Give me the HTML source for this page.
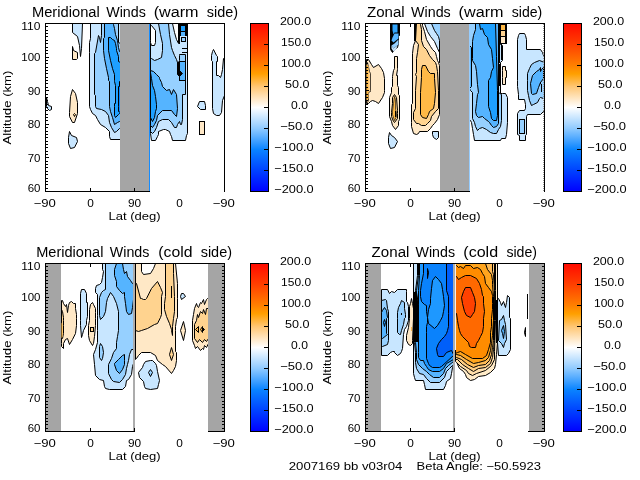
<!DOCTYPE html>
<html><head><meta charset="utf-8"><title>Winds</title>
<style>html,body{margin:0;padding:0;background:#fff;overflow:hidden}svg{display:block}
text{font-family:"Liberation Sans",sans-serif;fill:#000}</style></head>
<body><svg width="640" height="480" viewBox="0 0 640 480">
<rect width="640" height="480" fill="#fff"/>
<g shape-rendering="crispEdges" stroke-linejoin="miter">
<path shape-rendering="geometricPrecision" d="M90.5 23.5 L90.5 38.5 L89.5 42.5 L89.5 52.5 L89.5 106.5 L90.5 109.5 L92.5 113.5 L95.5 115.5 L97.5 119.5 L100.5 124.5 L105.5 127.5 L109.5 131.5 L109.5 136.5 L110.5 139.5 L120.5 139.5 L120.5 23.5 Z" fill="#c8e6ff" stroke="#000" stroke-width="1"/>
<path shape-rendering="geometricPrecision" d="M101.5 23.5 L101.5 35.5 L100.5 42.5 L99.5 37.5 L98.5 35.5 L95.5 52.5 L94.5 53.5 L94.5 94.5 L95.5 95.5 L95.5 106.5 L96.5 108.5 L101.5 109.5 L105.5 111.5 L108.5 115.5 L109.5 122.5 L111.5 127.5 L114.5 132.5 L116.5 131.5 L119.5 128.5 L120.5 128.5 L120.5 43.5 L118.5 42.5 L118.5 23.5 Z" fill="#96d0ff" stroke="#000" stroke-width="1"/>
<path shape-rendering="geometricPrecision" d="M104.5 23.5 L104.5 37.5 L103.5 38.5 L103.5 50.5 L104.5 58.5 L106.5 68.5 L108.5 77.5 L108.5 80.5 L109.5 81.5 L109.5 106.5 L110.5 111.5 L112.5 117.5 L114.5 124.5 L117.5 122.5 L119.5 121.5 L120.5 121.5 L120.5 52.5 L119.5 51.5 L118.5 47.5 L117.5 40.5 L115.5 34.5 L114.5 28.5 L113.5 24.5 L113.5 23.5 Z" fill="#55b4ff" stroke="#000" stroke-width="1"/>
<path shape-rendering="geometricPrecision" d="M108.5 37.5 L108.5 50.5 L110.5 60.5 L112.5 68.5 L114.5 74.5 L114.5 80.5 L114.5 81.5 L115.5 85.5 L115.5 103.5 L114.5 103.5 L114.5 106.5 L114.5 115.5 L115.5 117.5 L118.5 114.5 L119.5 113.5 L120.5 113.5 L120.5 62.5 L118.5 61.5 L118.5 56.5 L116.5 50.5 L116.5 48.5 L115.5 43.5 L114.5 40.5 L112.5 39.5 L110.5 37.5 Z" fill="#1ea0ff" stroke="#000" stroke-width="1"/>
<path shape-rendering="geometricPrecision" d="M118.5 86.5 L118.5 106.5 L118.5 111.5 L120.5 112.5 L120.5 81.5 L119.5 81.5 L119.5 86.5 Z" fill="#0a87ff" stroke="#000" stroke-width="1"/>
<path shape-rendering="geometricPrecision" d="M72.5 23.5 L72.5 32.5 L77.5 36.5 L79.5 45.5 L80.5 56.5 L80.5 56.5 L81.5 48.5 L82.5 23.5 Z" fill="#c8e6ff" stroke="#000" stroke-width="1"/>
<path shape-rendering="geometricPrecision" d="M72.5 46.5 L73.5 50.5 L77.5 52.5 L77.5 58.5 L76.5 59.5 L72.5 59.5 Z" fill="#ffe8c6" stroke="#000" stroke-width="1"/>
<path shape-rendering="geometricPrecision" d="M72.5 89.5 L70.5 96.5 L69.5 112.5 L69.5 116.5 L72.5 122.5 L74.5 122.5 L77.5 113.5 L77.5 102.5 L75.5 93.5 Z" fill="#ffe8c6" stroke="#000" stroke-width="1"/>
<path shape-rendering="geometricPrecision" d="M74.5 113.5 L73.5 114.5 L74.5 116.5 L75.5 114.5 Z" fill="#ffd38f" stroke="#000" stroke-width="1"/>
<path shape-rendering="geometricPrecision" d="M69.5 131.5 L71.5 135.5 L76.5 137.5 L77.5 141.5 L74.5 147.5 L70.5 148.5 L68.5 143.5 L68.5 137.5 Z" fill="#c8e6ff" stroke="#000" stroke-width="1"/>
<path shape-rendering="geometricPrecision" d="M46.5 97.5 L47.5 101.5 L48.5 105.5 L51.5 106.5 L51.5 109.5 L49.5 110.5 L47.5 108.5 L46.5 106.5 Z" fill="#c8e6ff" stroke="#000" stroke-width="1"/>
<path shape-rendering="geometricPrecision" d="M150.5 23.5 L187.5 23.5 L187.5 133.5 L186.5 135.5 L185.5 140.5 L172.5 140.5 L171.5 136.5 L170.5 134.5 L169.5 131.5 L165.5 129.5 L163.5 129.5 L158.5 131.5 L158.5 134.5 L157.5 136.5 L155.5 140.5 L151.5 140.5 L150.5 133.5 L150.5 133.5 Z" fill="#c8e6ff" stroke="#000" stroke-width="1"/>
<path shape-rendering="geometricPrecision" d="M150.5 24.5 L151.5 25.5 L155.5 30.5 L155.5 42.5 L154.5 45.5 L151.5 45.5 L150.5 42.5 L150.5 40.5 Z" fill="#ffffff" stroke="#000" stroke-width="1"/>
<path shape-rendering="geometricPrecision" d="M172.5 23.5 L174.5 32.5 L176.5 39.5 L178.5 43.5 L178.5 23.5 Z" fill="#ffffff" stroke="#000" stroke-width="1"/>
<path shape-rendering="geometricPrecision" d="M158.5 23.5 L160.5 34.5 L162.5 43.5 L162.5 50.5 L161.5 57.5 L157.5 59.5 L154.5 60.5 L151.5 58.5 L150.5 57.5 L150.5 131.5 L152.5 133.5 L154.5 131.5 L156.5 127.5 L158.5 121.5 L162.5 119.5 L168.5 119.5 L171.5 122.5 L174.5 127.5 L176.5 127.5 L177.5 124.5 L179.5 121.5 L180.5 124.5 L181.5 124.5 L182.5 119.5 L182.5 94.5 L185.5 94.5 L185.5 54.5 L179.5 54.5 L179.5 55.5 L179.5 60.5 L178.5 62.5 L177.5 62.5 L176.5 59.5 L174.5 55.5 L172.5 50.5 L171.5 47.5 L169.5 34.5 L168.5 23.5 Z" fill="#96d0ff" stroke="#000" stroke-width="1"/>
<path shape-rendering="geometricPrecision" d="M150.5 70.5 L153.5 71.5 L156.5 74.5 L159.5 77.5 L159.5 78.5 L161.5 82.5 L162.5 86.5 L166.5 90.5 L169.5 89.5 L171.5 94.5 L173.5 89.5 L176.5 94.5 L177.5 108.5 L176.5 116.5 L174.5 114.5 L171.5 110.5 L162.5 110.5 L157.5 115.5 L156.5 120.5 L154.5 124.5 L152.5 127.5 L150.5 125.5 Z" fill="#55b4ff" stroke="#000" stroke-width="1"/>
<path shape-rendering="geometricPrecision" d="M150.5 72.5 L151.5 78.5 L152.5 85.5 L154.5 90.5 L155.5 96.5 L156.5 104.5 L156.5 108.5 L155.5 111.5 L154.5 117.5 L152.5 121.5 L150.5 117.5 Z" fill="#1ea0ff" stroke="#000" stroke-width="1"/>
<rect x="178.6" y="23.5" width="9.0" height="12.5" fill="#000000" stroke="none"/>
<rect x="181.0" y="25.7" width="4.3" height="5.3" fill="#1ea0ff" stroke="none"/>
<rect x="181.0" y="32.3" width="4.3" height="3.5" fill="#55b4ff" stroke="none"/>
<rect x="181.0" y="37.0" width="4.3" height="4.9" fill="#96d0ff" stroke="#000"/>
<path d="M179.5 36.0 L179.5 43.5" stroke="#000" stroke-width="1" fill="none"/>
<path d="M182.0 48.0 L187.0 48.0" stroke="#000" stroke-width="1" fill="none"/>
<path d="M182.0 52.8 L187.0 52.8" stroke="#000" stroke-width="1" fill="none"/>
<rect x="179.9" y="61.9" width="5.6" height="18.6" fill="#55b4ff" stroke="#000"/>
<path shape-rendering="geometricPrecision" d="M177.5 62.5 L179.5 62.5 L179.5 70.5 L182.5 73.5 L179.5 76.5 L177.5 74.5 Z" fill="#000000" stroke="#000" stroke-width="1"/>
<path shape-rendering="geometricPrecision" d="M197.5 106.5 L199.5 101.5 L204.5 101.5 L205.5 105.5 L205.5 109.5 L200.5 109.5 Z" fill="#c8e6ff" stroke="#000" stroke-width="1"/>
<rect x="199.4" y="121.4" width="5.0" height="12.9" fill="#ffe8c6" stroke="#000"/>
<path shape-rendering="geometricPrecision" d="M213.5 49.5 L212.5 51.5 L211.5 55.5 L211.5 60.5 L212.5 61.5 L212.5 108.5 L213.5 113.5 L216.5 115.5 L219.5 115.5 L221.5 112.5 L222.5 100.5 L224.5 95.5 L224.5 60.5 L223.5 58.5 L222.5 69.5 L221.5 74.5 L220.5 77.5 L218.5 75.5 L216.5 75.5 L216.5 61.5 L217.5 61.5 L217.5 56.5 L216.5 55.5 Z" fill="#c8e6ff" stroke="#000" stroke-width="1"/>
<rect x="120.0" y="24.0" width="29.0" height="167.0" fill="#a5a5a5" stroke="none"/>
<rect x="149.0" y="24.0" width="1.0" height="168.0" fill="#148cff" stroke="none"/>
<path d="M45.0 23.5 L225.0 23.5" stroke="#000" stroke-width="1" fill="none"/>
<path d="M45.5 23.0 L45.5 192.0" stroke="#000" stroke-width="1" fill="none"/>
<path d="M224.5 23.0 L224.5 192.0" stroke="#000" stroke-width="1" fill="none"/>
<path d="M45.0 191.5 L150.0 191.5" stroke="#000" stroke-width="1" fill="none"/>
<path d="M46.0 191.5 L49.0 191.5" stroke="#000" stroke-width="1" fill="none"/>
<path d="M46.0 188.5 L48.0 188.5" stroke="#000" stroke-width="1" fill="none"/>
<path d="M46.0 184.5 L48.0 184.5" stroke="#000" stroke-width="1" fill="none"/>
<path d="M46.0 181.5 L48.0 181.5" stroke="#000" stroke-width="1" fill="none"/>
<path d="M46.0 178.5 L48.0 178.5" stroke="#000" stroke-width="1" fill="none"/>
<path d="M46.0 174.5 L48.0 174.5" stroke="#000" stroke-width="1" fill="none"/>
<path d="M46.0 171.5 L48.0 171.5" stroke="#000" stroke-width="1" fill="none"/>
<path d="M46.0 167.5 L48.0 167.5" stroke="#000" stroke-width="1" fill="none"/>
<path d="M46.0 164.5 L48.0 164.5" stroke="#000" stroke-width="1" fill="none"/>
<path d="M46.0 161.5 L48.0 161.5" stroke="#000" stroke-width="1" fill="none"/>
<path d="M46.0 157.5 L49.0 157.5" stroke="#000" stroke-width="1" fill="none"/>
<path d="M46.0 154.5 L48.0 154.5" stroke="#000" stroke-width="1" fill="none"/>
<path d="M46.0 151.5 L48.0 151.5" stroke="#000" stroke-width="1" fill="none"/>
<path d="M46.0 147.5 L48.0 147.5" stroke="#000" stroke-width="1" fill="none"/>
<path d="M46.0 144.5 L48.0 144.5" stroke="#000" stroke-width="1" fill="none"/>
<path d="M46.0 141.5 L48.0 141.5" stroke="#000" stroke-width="1" fill="none"/>
<path d="M46.0 137.5 L48.0 137.5" stroke="#000" stroke-width="1" fill="none"/>
<path d="M46.0 134.5 L48.0 134.5" stroke="#000" stroke-width="1" fill="none"/>
<path d="M46.0 131.5 L48.0 131.5" stroke="#000" stroke-width="1" fill="none"/>
<path d="M46.0 127.5 L48.0 127.5" stroke="#000" stroke-width="1" fill="none"/>
<path d="M46.0 124.5 L49.0 124.5" stroke="#000" stroke-width="1" fill="none"/>
<path d="M46.0 120.5 L48.0 120.5" stroke="#000" stroke-width="1" fill="none"/>
<path d="M46.0 117.5 L48.0 117.5" stroke="#000" stroke-width="1" fill="none"/>
<path d="M46.0 114.5 L48.0 114.5" stroke="#000" stroke-width="1" fill="none"/>
<path d="M46.0 110.5 L48.0 110.5" stroke="#000" stroke-width="1" fill="none"/>
<path d="M46.0 107.5 L48.0 107.5" stroke="#000" stroke-width="1" fill="none"/>
<path d="M46.0 104.5 L48.0 104.5" stroke="#000" stroke-width="1" fill="none"/>
<path d="M46.0 100.5 L48.0 100.5" stroke="#000" stroke-width="1" fill="none"/>
<path d="M46.0 97.5 L48.0 97.5" stroke="#000" stroke-width="1" fill="none"/>
<path d="M46.0 94.5 L48.0 94.5" stroke="#000" stroke-width="1" fill="none"/>
<path d="M46.0 90.5 L49.0 90.5" stroke="#000" stroke-width="1" fill="none"/>
<path d="M46.0 87.5 L48.0 87.5" stroke="#000" stroke-width="1" fill="none"/>
<path d="M46.0 83.5 L48.0 83.5" stroke="#000" stroke-width="1" fill="none"/>
<path d="M46.0 80.5 L48.0 80.5" stroke="#000" stroke-width="1" fill="none"/>
<path d="M46.0 77.5 L48.0 77.5" stroke="#000" stroke-width="1" fill="none"/>
<path d="M46.0 73.5 L48.0 73.5" stroke="#000" stroke-width="1" fill="none"/>
<path d="M46.0 70.5 L48.0 70.5" stroke="#000" stroke-width="1" fill="none"/>
<path d="M46.0 67.5 L48.0 67.5" stroke="#000" stroke-width="1" fill="none"/>
<path d="M46.0 63.5 L48.0 63.5" stroke="#000" stroke-width="1" fill="none"/>
<path d="M46.0 60.5 L48.0 60.5" stroke="#000" stroke-width="1" fill="none"/>
<path d="M46.0 57.5 L49.0 57.5" stroke="#000" stroke-width="1" fill="none"/>
<path d="M46.0 53.5 L48.0 53.5" stroke="#000" stroke-width="1" fill="none"/>
<path d="M46.0 50.5 L48.0 50.5" stroke="#000" stroke-width="1" fill="none"/>
<path d="M46.0 47.5 L48.0 47.5" stroke="#000" stroke-width="1" fill="none"/>
<path d="M46.0 43.5 L48.0 43.5" stroke="#000" stroke-width="1" fill="none"/>
<path d="M46.0 40.5 L48.0 40.5" stroke="#000" stroke-width="1" fill="none"/>
<path d="M46.0 36.5 L48.0 36.5" stroke="#000" stroke-width="1" fill="none"/>
<path d="M46.0 33.5 L48.0 33.5" stroke="#000" stroke-width="1" fill="none"/>
<path d="M46.0 30.5 L48.0 30.5" stroke="#000" stroke-width="1" fill="none"/>
<path d="M46.0 26.5 L48.0 26.5" stroke="#000" stroke-width="1" fill="none"/>
<path d="M46.0 23.5 L49.0 23.5" stroke="#000" stroke-width="1" fill="none"/>
<path d="M90.5 188.0 L90.5 191.0" stroke="#000" stroke-width="1" fill="none"/>
<path d="M134.5 188.0 L134.5 191.0" stroke="#000" stroke-width="1" fill="none"/>
<path d="M90.5 24.0 L90.5 27.0" stroke="#000" stroke-width="1" fill="none"/>
<defs><linearGradient id="g250_23" x1="0" y1="0" x2="0" y2="1"><stop offset="0" stop-color="#ff0a00"/><stop offset="0.125" stop-color="#ff4000"/><stop offset="0.25" stop-color="#ff8000"/><stop offset="0.3" stop-color="#ffa000"/><stop offset="0.375" stop-color="#ffc673"/><stop offset="0.5" stop-color="#ffffff"/><stop offset="0.625" stop-color="#8fcaff"/><stop offset="0.75" stop-color="#0a84ff"/><stop offset="0.875" stop-color="#0042ff"/><stop offset="1" stop-color="#0000ff"/></linearGradient></defs>
<rect x="250.5" y="23.5" width="18" height="168" fill="url(#g250_23)" stroke="#000" stroke-width="1"/>
<path d="M264.0 44.5 L268.0 44.5" stroke="#000" stroke-width="1" fill="none"/>
<path d="M264.0 65.5 L268.0 65.5" stroke="#000" stroke-width="1" fill="none"/>
<path d="M264.0 86.5 L268.0 86.5" stroke="#000" stroke-width="1" fill="none"/>
<path d="M264.0 107.5 L268.0 107.5" stroke="#000" stroke-width="1" fill="none"/>
<path d="M264.0 128.5 L268.0 128.5" stroke="#000" stroke-width="1" fill="none"/>
<path d="M264.0 149.5 L268.0 149.5" stroke="#000" stroke-width="1" fill="none"/>
<path d="M264.0 170.5 L268.0 170.5" stroke="#000" stroke-width="1" fill="none"/>
<path shape-rendering="geometricPrecision" d="M390.5 23.5 L399.5 23.5 L399.5 35.5 L398.5 36.5 L398.5 43.5 L397.5 47.5 L394.5 49.5 L392.5 52.5 L390.5 49.5 Z" fill="#000000" stroke="#000" stroke-width="1"/>
<path shape-rendering="geometricPrecision" d="M392.5 24.5 L397.5 24.5 L397.5 32.5 L394.5 32.5 L393.5 34.5 L392.5 30.5 Z" fill="#32a5fc" stroke="none" stroke-width="1"/>
<path shape-rendering="geometricPrecision" d="M394.5 33.5 L398.5 33.5 L398.5 38.5 L393.5 42.5 L391.5 40.5 L392.5 37.5 Z" fill="#55b4ff" stroke="none" stroke-width="1"/>
<path shape-rendering="geometricPrecision" d="M398.5 39.5 L398.5 44.5 L393.5 48.5 L391.5 45.5 L394.5 43.5 Z" fill="#96d0ff" stroke="none" stroke-width="1"/>
<path shape-rendering="geometricPrecision" d="M397.5 45.5 L396.5 48.5 L393.5 51.5 L391.5 48.5 L391.5 45.5 L393.5 48.5 Z" fill="#c8e6ff" stroke="none" stroke-width="1"/>
<path shape-rendering="geometricPrecision" d="M366.5 59.5 L368.5 59.5 L371.5 64.5 L373.5 67.5 L378.5 64.5 L381.5 68.5 L383.5 72.5 L384.5 78.5 L384.5 90.5 L384.5 92.5 L382.5 97.5 L378.5 103.5 L375.5 101.5 L372.5 100.5 L370.5 101.5 L368.5 103.5 L366.5 103.5 Z" fill="#ffe8c6" stroke="#000" stroke-width="1"/>
<path shape-rendering="geometricPrecision" d="M366.5 62.5 L367.5 62.5 L369.5 71.5 L370.5 73.5 L370.5 90.5 L370.5 91.5 L368.5 92.5 L368.5 100.5 L367.5 102.5 L366.5 102.5 Z" fill="#ffd38f" stroke="#000" stroke-width="0.7"/>
<path shape-rendering="geometricPrecision" d="M366.5 64.5 L368.5 66.5 L368.5 98.5 L366.5 100.5 Z" fill="#ffb946" stroke="none" stroke-width="1"/>
<path shape-rendering="geometricPrecision" d="M394.5 56.5 L397.5 56.5 L397.5 68.5 L397.5 69.5 L396.5 75.5 L397.5 75.5 L397.5 85.5 L398.5 87.5 L398.5 94.5 L399.5 95.5 L399.5 119.5 L398.5 121.5 L398.5 125.5 L395.5 129.5 L392.5 125.5 L391.5 121.5 L389.5 116.5 L389.5 97.5 L391.5 92.5 L391.5 87.5 L392.5 86.5 L392.5 78.5 L392.5 76.5 L393.5 70.5 L394.5 68.5 Z" fill="#ffe8c6" stroke="#000" stroke-width="1"/>
<path shape-rendering="geometricPrecision" d="M394.5 94.5 L396.5 97.5 L397.5 110.5 L397.5 113.5 L397.5 118.5 L394.5 122.5 L393.5 121.5 L391.5 116.5 L391.5 112.5 L392.5 103.5 L392.5 97.5 Z" fill="#ffd38f" stroke="#000" stroke-width="1"/>
<path shape-rendering="geometricPrecision" d="M394.5 96.5 L395.5 99.5 L395.5 109.5 L396.5 112.5 L396.5 116.5 L394.5 120.5 L392.5 114.5 L392.5 111.5 L393.5 103.5 Z" fill="#ffb946" stroke="#000" stroke-width="0.6"/>
<rect x="394.6" y="111.0" width="1.0" height="5.5" fill="#000000" stroke="none"/>
<path shape-rendering="geometricPrecision" d="M389.5 132.5 L391.5 135.5 L394.5 137.5 L397.5 141.5 L394.5 147.5 L390.5 148.5 L388.5 143.5 L388.5 137.5 Z" fill="#c8e6ff" stroke="#000" stroke-width="1"/>
<path shape-rendering="geometricPrecision" d="M415.5 23.5 L415.5 40.5 L413.5 45.5 L412.5 53.5 L412.5 103.5 L411.5 104.5 L411.5 122.5 L411.5 126.5 L413.5 133.5 L416.5 134.5 L418.5 133.5 L419.5 131.5 L427.5 131.5 L430.5 128.5 L432.5 125.5 L434.5 123.5 L437.5 119.5 L439.5 114.5 L439.5 65.5 L438.5 62.5 L437.5 60.5 L436.5 56.5 L435.5 52.5 L432.5 49.5 L430.5 46.5 L426.5 39.5 L424.5 31.5 L422.5 25.5 L422.5 23.5 Z" fill="#ffe8c6" stroke="#000" stroke-width="1"/>
<path shape-rendering="geometricPrecision" d="M416.5 23.5 L415.5 40.5 L418.5 44.5 L417.5 52.5 L416.5 58.5 L416.5 72.5 L415.5 74.5 L416.5 76.5 L415.5 90.5 L415.5 108.5 L413.5 112.5 L413.5 119.5 L416.5 123.5 L418.5 123.5 L421.5 125.5 L425.5 125.5 L427.5 123.5 L430.5 120.5 L431.5 116.5 L435.5 111.5 L438.5 108.5 L438.5 90.5 L437.5 71.5 L436.5 65.5 L435.5 62.5 L432.5 59.5 L429.5 55.5 L426.5 49.5 L423.5 46.5 L421.5 40.5 L421.5 29.5 L420.5 24.5 L420.5 23.5 Z" fill="#ffd38f" stroke="#000" stroke-width="1"/>
<path shape-rendering="geometricPrecision" d="M422.5 65.5 L425.5 65.5 L428.5 71.5 L430.5 73.5 L434.5 73.5 L434.5 78.5 L435.5 92.5 L434.5 103.5 L433.5 108.5 L429.5 111.5 L428.5 114.5 L426.5 118.5 L422.5 117.5 L420.5 114.5 L420.5 92.5 L421.5 77.5 L421.5 69.5 Z" fill="#ffb946" stroke="#000" stroke-width="1"/>
<rect x="414.4" y="23.5" width="1.5" height="17.2" fill="#000000" stroke="none"/>
<path shape-rendering="geometricPrecision" d="M424.5 23.5 L427.5 31.5 L430.5 36.5 L434.5 41.5 L437.5 48.5 L439.5 52.5 L439.5 62.5 L440.5 62.5 L440.5 23.5 Z" fill="#c8e6ff" stroke="#000" stroke-width="1"/>
<path shape-rendering="geometricPrecision" d="M431.5 23.5 L434.5 30.5 L436.5 33.5 L438.5 36.5 L439.5 40.5 L439.5 62.5 L440.5 62.5 L440.5 23.5 Z" fill="#96d0ff" stroke="#000" stroke-width="1"/>
<path shape-rendering="geometricPrecision" d="M432.5 131.5 L438.5 131.5 L438.5 137.5 L436.5 139.5 L433.5 137.5 L432.5 134.5 Z" fill="#c8e6ff" stroke="#000" stroke-width="1"/>
<path shape-rendering="geometricPrecision" d="M469.5 23.5 L500.5 23.5 L500.5 44.5 L502.5 45.5 L502.5 60.5 L500.5 62.5 L500.5 93.5 L502.5 93.5 L505.5 93.5 L507.5 97.5 L507.5 122.5 L506.5 134.5 L505.5 138.5 L501.5 138.5 L500.5 140.5 L474.5 140.5 L473.5 134.5 L472.5 128.5 L471.5 122.5 L470.5 120.5 L469.5 120.5 Z" fill="#c8e6ff" stroke="#000" stroke-width="1"/>
<path shape-rendering="geometricPrecision" d="M469.5 23.5 L498.5 23.5 L498.5 92.5 L501.5 94.5 L501.5 120.5 L500.5 126.5 L498.5 129.5 L496.5 133.5 L493.5 133.5 L490.5 132.5 L486.5 129.5 L482.5 127.5 L479.5 128.5 L477.5 130.5 L475.5 126.5 L474.5 122.5 L472.5 118.5 L472.5 92.5 L470.5 90.5 L469.5 88.5 Z" fill="#96d0ff" stroke="#000" stroke-width="1"/>
<path shape-rendering="geometricPrecision" d="M475.5 23.5 L475.5 29.5 L473.5 35.5 L472.5 41.5 L472.5 58.5 L472.5 60.5 L475.5 65.5 L476.5 71.5 L477.5 84.5 L478.5 92.5 L477.5 94.5 L476.5 103.5 L475.5 111.5 L476.5 115.5 L478.5 117.5 L482.5 116.5 L484.5 118.5 L488.5 121.5 L489.5 122.5 L491.5 125.5 L493.5 127.5 L496.5 126.5 L498.5 123.5 L498.5 23.5 Z" fill="#55b4ff" stroke="#000" stroke-width="1"/>
<path shape-rendering="geometricPrecision" d="M469.5 45.5 L471.5 47.5 L471.5 86.5 L469.5 88.5 Z" fill="#55b4ff" stroke="#000" stroke-width="1"/>
<path shape-rendering="geometricPrecision" d="M479.5 23.5 L480.5 29.5 L482.5 28.5 L484.5 34.5 L487.5 37.5 L488.5 44.5 L491.5 49.5 L492.5 58.5 L493.5 67.5 L491.5 71.5 L490.5 77.5 L488.5 80.5 L488.5 106.5 L490.5 112.5 L491.5 118.5 L493.5 120.5 L496.5 120.5 L497.5 115.5 L497.5 90.5 L496.5 56.5 L495.5 23.5 Z" fill="#1ea0ff" stroke="#000" stroke-width="1"/>
<rect x="498.2" y="23.5" width="8.6" height="20.7" fill="#000000" stroke="none"/>
<rect x="501.2" y="25.0" width="4.1" height="5.2" fill="#ffb946" stroke="none"/>
<rect x="501.2" y="31.4" width="4.1" height="4.5" fill="#ffd38f" stroke="none"/>
<rect x="501.2" y="37.4" width="4.1" height="5.6" fill="#ffe8c6" stroke="none"/>
<rect x="498.6" y="63.5" width="2.6" height="22.5" fill="#000000" stroke="none"/>
<path d="M499.5 44.0 L499.5 63.0" stroke="#000" stroke-width="1" fill="none"/>
<path d="M501.5 44.0 L501.5 60.0" stroke="#000" stroke-width="1" fill="none"/>
<path shape-rendering="geometricPrecision" d="M502.5 66.5 L505.5 66.5 L505.5 70.5 L506.5 70.5 L506.5 77.5 L505.5 77.5 L505.5 84.5 L502.5 84.5 L502.5 77.5 L502.5 77.5 L502.5 70.5 L502.5 70.5 Z" fill="#ffe8c6" stroke="#000" stroke-width="1"/>
<path shape-rendering="geometricPrecision" d="M519.5 33.5 L524.5 33.5 L525.5 35.5 L526.5 39.5 L526.5 49.5 L540.5 49.5 L542.5 52.5 L543.5 55.5 L544.5 56.5 L544.5 111.5 L543.5 111.5 L540.5 114.5 L527.5 114.5 L526.5 116.5 L526.5 134.5 L525.5 135.5 L525.5 140.5 L519.5 140.5 L519.5 135.5 L517.5 134.5 L517.5 113.5 L519.5 110.5 L524.5 110.5 L525.5 108.5 L525.5 104.5 L524.5 99.5 L518.5 99.5 L518.5 94.5 L517.5 86.5 L517.5 80.5 L517.5 39.5 L518.5 35.5 Z" fill="#c8e6ff" stroke="#000" stroke-width="1"/>
<path shape-rendering="geometricPrecision" d="M544.5 62.5 L539.5 60.5 L534.5 62.5 L531.5 64.5 L529.5 68.5 L527.5 73.5 L527.5 80.5 L527.5 90.5 L528.5 95.5 L529.5 100.5 L531.5 105.5 L533.5 104.5 L537.5 102.5 L539.5 98.5 L540.5 97.5 L543.5 98.5 L544.5 99.5 Z" fill="#96d0ff" stroke="#000" stroke-width="1"/>
<path shape-rendering="geometricPrecision" d="M540.5 67.5 L539.5 69.5 L536.5 71.5 L532.5 75.5 L530.5 83.5 L531.5 93.5 L532.5 94.5 L536.5 93.5 L538.5 87.5 L540.5 82.5 L543.5 78.5 L543.5 67.5 L541.5 69.5 L540.5 71.5 Z" fill="#55b4ff" stroke="#000" stroke-width="1"/>
<path d="M540.7 82.0 L542.0 92.0" stroke="#000" stroke-width="1" fill="none"/>
<rect x="519.5" y="119.6" width="4.9" height="14.3" fill="#96d0ff" stroke="#000"/>
<rect x="440.0" y="24.0" width="29.0" height="167.0" fill="#a5a5a5" stroke="none"/>
<rect x="469.0" y="24.0" width="1.0" height="168.0" fill="#96cdff" stroke="none"/>
<path d="M543.5 24.0 V191.0" stroke="#999" stroke-width="1" stroke-dasharray="1 1" fill="none"/>
<path d="M365.0 23.5 L545.0 23.5" stroke="#000" stroke-width="1" fill="none"/>
<path d="M365.5 23.0 L365.5 192.0" stroke="#000" stroke-width="1" fill="none"/>
<path d="M544.5 23.0 L544.5 192.0" stroke="#000" stroke-width="1" fill="none"/>
<path d="M365.0 191.5 L470.0 191.5" stroke="#000" stroke-width="1" fill="none"/>
<path d="M366.0 191.5 L369.0 191.5" stroke="#000" stroke-width="1" fill="none"/>
<path d="M366.0 188.5 L368.0 188.5" stroke="#000" stroke-width="1" fill="none"/>
<path d="M366.0 184.5 L368.0 184.5" stroke="#000" stroke-width="1" fill="none"/>
<path d="M366.0 181.5 L368.0 181.5" stroke="#000" stroke-width="1" fill="none"/>
<path d="M366.0 178.5 L368.0 178.5" stroke="#000" stroke-width="1" fill="none"/>
<path d="M366.0 174.5 L368.0 174.5" stroke="#000" stroke-width="1" fill="none"/>
<path d="M366.0 171.5 L368.0 171.5" stroke="#000" stroke-width="1" fill="none"/>
<path d="M366.0 167.5 L368.0 167.5" stroke="#000" stroke-width="1" fill="none"/>
<path d="M366.0 164.5 L368.0 164.5" stroke="#000" stroke-width="1" fill="none"/>
<path d="M366.0 161.5 L368.0 161.5" stroke="#000" stroke-width="1" fill="none"/>
<path d="M366.0 157.5 L369.0 157.5" stroke="#000" stroke-width="1" fill="none"/>
<path d="M366.0 154.5 L368.0 154.5" stroke="#000" stroke-width="1" fill="none"/>
<path d="M366.0 151.5 L368.0 151.5" stroke="#000" stroke-width="1" fill="none"/>
<path d="M366.0 147.5 L368.0 147.5" stroke="#000" stroke-width="1" fill="none"/>
<path d="M366.0 144.5 L368.0 144.5" stroke="#000" stroke-width="1" fill="none"/>
<path d="M366.0 141.5 L368.0 141.5" stroke="#000" stroke-width="1" fill="none"/>
<path d="M366.0 137.5 L368.0 137.5" stroke="#000" stroke-width="1" fill="none"/>
<path d="M366.0 134.5 L368.0 134.5" stroke="#000" stroke-width="1" fill="none"/>
<path d="M366.0 131.5 L368.0 131.5" stroke="#000" stroke-width="1" fill="none"/>
<path d="M366.0 127.5 L368.0 127.5" stroke="#000" stroke-width="1" fill="none"/>
<path d="M366.0 124.5 L369.0 124.5" stroke="#000" stroke-width="1" fill="none"/>
<path d="M366.0 120.5 L368.0 120.5" stroke="#000" stroke-width="1" fill="none"/>
<path d="M366.0 117.5 L368.0 117.5" stroke="#000" stroke-width="1" fill="none"/>
<path d="M366.0 114.5 L368.0 114.5" stroke="#000" stroke-width="1" fill="none"/>
<path d="M366.0 110.5 L368.0 110.5" stroke="#000" stroke-width="1" fill="none"/>
<path d="M366.0 107.5 L368.0 107.5" stroke="#000" stroke-width="1" fill="none"/>
<path d="M366.0 104.5 L368.0 104.5" stroke="#000" stroke-width="1" fill="none"/>
<path d="M366.0 100.5 L368.0 100.5" stroke="#000" stroke-width="1" fill="none"/>
<path d="M366.0 97.5 L368.0 97.5" stroke="#000" stroke-width="1" fill="none"/>
<path d="M366.0 94.5 L368.0 94.5" stroke="#000" stroke-width="1" fill="none"/>
<path d="M366.0 90.5 L369.0 90.5" stroke="#000" stroke-width="1" fill="none"/>
<path d="M366.0 87.5 L368.0 87.5" stroke="#000" stroke-width="1" fill="none"/>
<path d="M366.0 83.5 L368.0 83.5" stroke="#000" stroke-width="1" fill="none"/>
<path d="M366.0 80.5 L368.0 80.5" stroke="#000" stroke-width="1" fill="none"/>
<path d="M366.0 77.5 L368.0 77.5" stroke="#000" stroke-width="1" fill="none"/>
<path d="M366.0 73.5 L368.0 73.5" stroke="#000" stroke-width="1" fill="none"/>
<path d="M366.0 70.5 L368.0 70.5" stroke="#000" stroke-width="1" fill="none"/>
<path d="M366.0 67.5 L368.0 67.5" stroke="#000" stroke-width="1" fill="none"/>
<path d="M366.0 63.5 L368.0 63.5" stroke="#000" stroke-width="1" fill="none"/>
<path d="M366.0 60.5 L368.0 60.5" stroke="#000" stroke-width="1" fill="none"/>
<path d="M366.0 57.5 L369.0 57.5" stroke="#000" stroke-width="1" fill="none"/>
<path d="M366.0 53.5 L368.0 53.5" stroke="#000" stroke-width="1" fill="none"/>
<path d="M366.0 50.5 L368.0 50.5" stroke="#000" stroke-width="1" fill="none"/>
<path d="M366.0 47.5 L368.0 47.5" stroke="#000" stroke-width="1" fill="none"/>
<path d="M366.0 43.5 L368.0 43.5" stroke="#000" stroke-width="1" fill="none"/>
<path d="M366.0 40.5 L368.0 40.5" stroke="#000" stroke-width="1" fill="none"/>
<path d="M366.0 36.5 L368.0 36.5" stroke="#000" stroke-width="1" fill="none"/>
<path d="M366.0 33.5 L368.0 33.5" stroke="#000" stroke-width="1" fill="none"/>
<path d="M366.0 30.5 L368.0 30.5" stroke="#000" stroke-width="1" fill="none"/>
<path d="M366.0 26.5 L368.0 26.5" stroke="#000" stroke-width="1" fill="none"/>
<path d="M366.0 23.5 L369.0 23.5" stroke="#000" stroke-width="1" fill="none"/>
<path d="M410.5 188.0 L410.5 191.0" stroke="#000" stroke-width="1" fill="none"/>
<path d="M454.5 188.0 L454.5 191.0" stroke="#000" stroke-width="1" fill="none"/>
<path d="M410.5 24.0 L410.5 27.0" stroke="#000" stroke-width="1" fill="none"/>
<defs><linearGradient id="g563_23" x1="0" y1="0" x2="0" y2="1"><stop offset="0" stop-color="#ff0a00"/><stop offset="0.125" stop-color="#ff4000"/><stop offset="0.25" stop-color="#ff8000"/><stop offset="0.3" stop-color="#ffa000"/><stop offset="0.375" stop-color="#ffc673"/><stop offset="0.5" stop-color="#ffffff"/><stop offset="0.625" stop-color="#8fcaff"/><stop offset="0.75" stop-color="#0a84ff"/><stop offset="0.875" stop-color="#0042ff"/><stop offset="1" stop-color="#0000ff"/></linearGradient></defs>
<rect x="563.5" y="23.5" width="18" height="168" fill="url(#g563_23)" stroke="#000" stroke-width="1"/>
<path d="M577.0 44.5 L581.0 44.5" stroke="#000" stroke-width="1" fill="none"/>
<path d="M577.0 65.5 L581.0 65.5" stroke="#000" stroke-width="1" fill="none"/>
<path d="M577.0 86.5 L581.0 86.5" stroke="#000" stroke-width="1" fill="none"/>
<path d="M577.0 107.5 L581.0 107.5" stroke="#000" stroke-width="1" fill="none"/>
<path d="M577.0 128.5 L581.0 128.5" stroke="#000" stroke-width="1" fill="none"/>
<path d="M577.0 149.5 L581.0 149.5" stroke="#000" stroke-width="1" fill="none"/>
<path d="M577.0 170.5 L581.0 170.5" stroke="#000" stroke-width="1" fill="none"/>
<path shape-rendering="geometricPrecision" d="M61.5 300.5 L62.5 300.5 L63.5 303.5 L65.5 306.5 L66.5 304.5 L67.5 312.5 L68.5 305.5 L69.5 302.5 L71.5 301.5 L73.5 303.5 L75.5 303.5 L75.5 308.5 L76.5 314.5 L76.5 318.5 L76.5 325.5 L75.5 333.5 L72.5 339.5 L69.5 344.5 L67.5 338.5 L65.5 339.5 L63.5 343.5 L63.5 348.5 L61.5 346.5 L61.5 343.5 Z" fill="#ffe8c6" stroke="#000" stroke-width="1"/>
<path shape-rendering="geometricPrecision" d="M61.5 309.5 L62.5 311.5 L63.5 317.5 L63.5 320.5 L63.5 325.5 L63.5 333.5 L62.5 338.5 L61.5 339.5 Z" fill="#ffd38f" stroke="#000" stroke-width="1"/>
<path shape-rendering="geometricPrecision" d="M61.5 322.5 L62.5 324.5 L62.5 336.5 L61.5 338.5 Z" fill="#ffb946" stroke="none" stroke-width="1"/>
<path shape-rendering="geometricPrecision" d="M80.5 320.5 L80.5 293.5 L81.5 289.5 L84.5 289.5 L86.5 293.5 L86.5 302.5 L87.5 302.5 L87.5 316.5 L86.5 320.5 L86.5 324.5 L83.5 330.5 L82.5 334.5 L81.5 337.5 L80.5 325.5 Z" fill="#c8e6ff" stroke="#000" stroke-width="1"/>
<path shape-rendering="geometricPrecision" d="M89.5 320.5 L89.5 309.5 L90.5 304.5 L92.5 302.5 L93.5 304.5 L95.5 308.5 L95.5 312.5 L95.5 318.5 L95.5 325.5 L94.5 336.5 L93.5 343.5 L92.5 345.5 L89.5 340.5 L88.5 335.5 L88.5 325.5 Z" fill="#ffe8c6" stroke="#000" stroke-width="1"/>
<rect x="90.9" y="327.4" width="3.0" height="4.1" fill="#ffd38f" stroke="#000"/>
<path shape-rendering="geometricPrecision" d="M102.5 263.5 L102.5 269.5 L103.5 271.5 L102.5 277.5 L101.5 282.5 L99.5 284.5 L96.5 285.5 L95.5 288.5 L95.5 292.5 L97.5 294.5 L97.5 315.5 L97.5 330.5 L97.5 342.5 L95.5 349.5 L93.5 354.5 L94.5 364.5 L95.5 375.5 L99.5 379.5 L103.5 380.5 L104.5 386.5 L105.5 388.5 L109.5 389.5 L122.5 389.5 L125.5 386.5 L126.5 380.5 L128.5 379.5 L131.5 374.5 L132.5 366.5 L134.5 360.5 L134.5 263.5 Z" fill="#c8e6ff" stroke="#000" stroke-width="1"/>
<path shape-rendering="geometricPrecision" d="M105.5 263.5 L105.5 289.5 L103.5 290.5 L101.5 292.5 L99.5 297.5 L99.5 315.5 L100.5 319.5 L103.5 316.5 L105.5 311.5 L106.5 302.5 L107.5 298.5 L110.5 292.5 L113.5 296.5 L116.5 303.5 L118.5 311.5 L118.5 330.5 L117.5 336.5 L116.5 342.5 L116.5 348.5 L113.5 352.5 L111.5 358.5 L108.5 364.5 L108.5 373.5 L111.5 379.5 L113.5 381.5 L119.5 382.5 L122.5 379.5 L125.5 374.5 L126.5 368.5 L127.5 364.5 L128.5 360.5 L129.5 354.5 L131.5 349.5 L134.5 349.5 L134.5 263.5 Z" fill="#96d0ff" stroke="#000" stroke-width="1"/>
<path shape-rendering="geometricPrecision" d="M116.5 263.5 L114.5 269.5 L114.5 275.5 L116.5 281.5 L116.5 286.5 L119.5 290.5 L122.5 293.5 L124.5 292.5 L124.5 296.5 L125.5 303.5 L126.5 311.5 L128.5 314.5 L131.5 313.5 L132.5 307.5 L133.5 299.5 L134.5 298.5 L134.5 285.5 L132.5 283.5 L130.5 280.5 L127.5 276.5 L126.5 271.5 L124.5 273.5 L123.5 269.5 L122.5 263.5 Z" fill="#55b4ff" stroke="#000" stroke-width="1"/>
<path shape-rendering="geometricPrecision" d="M124.5 354.5 L122.5 355.5 L118.5 359.5 L114.5 363.5 L114.5 364.5 L116.5 370.5 L119.5 373.5 L122.5 369.5 L124.5 364.5 L124.5 360.5 Z" fill="#55b4ff" stroke="#000" stroke-width="1"/>
<path shape-rendering="geometricPrecision" d="M100.5 343.5 L99.5 346.5 L99.5 357.5 L101.5 360.5 L102.5 358.5 L103.5 352.5 L102.5 346.5 Z" fill="#96d0ff" stroke="#000" stroke-width="1"/>
<path shape-rendering="geometricPrecision" d="M135.5 263.5 L175.5 263.5 L177.5 283.5 L177.5 298.5 L177.5 317.5 L176.5 319.5 L175.5 326.5 L175.5 330.5 L175.5 351.5 L176.5 352.5 L176.5 360.5 L175.5 366.5 L173.5 370.5 L171.5 373.5 L165.5 366.5 L162.5 364.5 L157.5 360.5 L155.5 355.5 L150.5 352.5 L141.5 352.5 L138.5 355.5 L136.5 358.5 L135.5 359.5 Z" fill="#ffe8c6" stroke="#000" stroke-width="1"/>
<path shape-rendering="geometricPrecision" d="M141.5 263.5 L141.5 271.5 L143.5 274.5 L150.5 273.5 L153.5 268.5 L155.5 263.5 Z" fill="#ffffff" stroke="#000" stroke-width="1"/>
<path shape-rendering="geometricPrecision" d="M135.5 283.5 L136.5 283.5 L140.5 298.5 L141.5 298.5 L143.5 299.5 L145.5 299.5 L146.5 298.5 L151.5 288.5 L157.5 281.5 L160.5 287.5 L162.5 292.5 L161.5 296.5 L161.5 314.5 L160.5 317.5 L157.5 323.5 L154.5 324.5 L147.5 328.5 L141.5 330.5 L138.5 331.5 L135.5 330.5 L135.5 330.5 Z" fill="#ffd38f" stroke="#000" stroke-width="1"/>
<path shape-rendering="geometricPrecision" d="M165.5 263.5 L165.5 296.5 L164.5 303.5 L164.5 309.5 L166.5 316.5 L169.5 323.5 L171.5 329.5 L171.5 330.5 L172.5 335.5 L172.5 326.5 L173.5 318.5 L174.5 311.5 L174.5 296.5 L173.5 273.5 L173.5 263.5 Z" fill="#ffd38f" stroke="#000" stroke-width="1"/>
<path d="M171.5 286.0 L171.5 298.0" stroke="#000" stroke-width="1" fill="none"/>
<path shape-rendering="geometricPrecision" d="M171.5 347.5 L169.5 354.5 L171.5 360.5 L173.5 354.5 Z" fill="#ffd38f" stroke="#000" stroke-width="1"/>
<path shape-rendering="geometricPrecision" d="M150.5 360.5 L145.5 361.5 L143.5 364.5 L142.5 367.5 L138.5 372.5 L139.5 377.5 L143.5 381.5 L144.5 386.5 L145.5 388.5 L150.5 389.5 L157.5 388.5 L158.5 384.5 L159.5 380.5 L157.5 371.5 L156.5 365.5 L155.5 363.5 L152.5 360.5 Z" fill="#c8e6ff" stroke="#000" stroke-width="1"/>
<path shape-rendering="geometricPrecision" d="M150.5 369.5 L148.5 372.5 L150.5 376.5 L152.5 372.5 Z" fill="#96d0ff" stroke="#000" stroke-width="1"/>
<path shape-rendering="geometricPrecision" d="M181.5 293.5 L180.5 296.5 L181.5 299.5 L185.5 296.5 L183.5 293.5 Z" fill="#c8e6ff" stroke="#000" stroke-width="1"/>
<path shape-rendering="geometricPrecision" d="M183.5 321.5 L180.5 330.5 L183.5 340.5 L185.5 330.5 Z" fill="#ffe8c6" stroke="#000" stroke-width="1"/>
<path shape-rendering="geometricPrecision" d="M192.5 320.5 L193.5 314.5 L194.5 308.5 L196.5 303.5 L197.5 306.5 L198.5 307.5 L200.5 302.5 L201.5 303.5 L203.5 299.5 L204.5 304.5 L206.5 299.5 L207.5 298.5 L208.5 298.5 L208.5 343.5 L206.5 347.5 L204.5 345.5 L203.5 349.5 L202.5 348.5 L200.5 350.5 L197.5 346.5 L195.5 348.5 L194.5 345.5 L192.5 340.5 Z" fill="#ffe8c6" stroke="#000" stroke-width="1"/>
<path shape-rendering="geometricPrecision" d="M196.5 320.5 L197.5 314.5 L198.5 317.5 L200.5 311.5 L202.5 313.5 L203.5 309.5 L205.5 314.5 L206.5 308.5 L208.5 308.5 L208.5 338.5 L206.5 341.5 L204.5 339.5 L202.5 342.5 L199.5 339.5 L197.5 342.5 L194.5 338.5 L194.5 324.5 Z" fill="#ffd38f" stroke="#000" stroke-width="1"/>
<path shape-rendering="geometricPrecision" d="M195.5 329.5 L198.5 326.5 L198.5 332.5 Z" fill="#ffb946" stroke="#000" stroke-width="1"/>
<path shape-rendering="geometricPrecision" d="M200.5 329.5 L202.5 326.5 L202.5 332.5 Z" fill="#ffb946" stroke="#000" stroke-width="1"/>
<path shape-rendering="geometricPrecision" d="M202.5 327.5 L204.5 329.5 L202.5 331.5 Z" fill="#000000" stroke="#000" stroke-width="1"/>
<rect x="46.0" y="264.0" width="15.0" height="167.0" fill="#a5a5a5" stroke="none"/>
<rect x="208.3" y="264.0" width="15.7" height="167.0" fill="#a5a5a5" stroke="none"/>
<rect x="133.3" y="264.0" width="1.7" height="167.0" fill="#acacac" stroke="none"/>
<path d="M45.0 263.5 L225.0 263.5" stroke="#000" stroke-width="1" fill="none"/>
<path d="M45.5 263.0 L45.5 432.0" stroke="#000" stroke-width="1" fill="none"/>
<path d="M224.5 263.0 L224.5 432.0" stroke="#000" stroke-width="1" fill="none"/>
<path d="M45.0 431.5 L135.0 431.5" stroke="#000" stroke-width="1" fill="none"/>
<path d="M208.0 431.5 L225.0 431.5" stroke="#000" stroke-width="1" fill="none"/>
<path d="M46.0 431.5 L49.0 431.5" stroke="#000" stroke-width="1" fill="none"/>
<path d="M220.5 431.5 L224.0 431.5" stroke="#000" stroke-width="1" fill="none"/>
<path d="M46.0 428.5 L48.0 428.5" stroke="#000" stroke-width="1" fill="none"/>
<path d="M221.5 428.5 L224.0 428.5" stroke="#000" stroke-width="1" fill="none"/>
<path d="M46.0 424.5 L48.0 424.5" stroke="#000" stroke-width="1" fill="none"/>
<path d="M221.5 424.5 L224.0 424.5" stroke="#000" stroke-width="1" fill="none"/>
<path d="M46.0 421.5 L48.0 421.5" stroke="#000" stroke-width="1" fill="none"/>
<path d="M221.5 421.5 L224.0 421.5" stroke="#000" stroke-width="1" fill="none"/>
<path d="M46.0 418.5 L48.0 418.5" stroke="#000" stroke-width="1" fill="none"/>
<path d="M221.5 418.5 L224.0 418.5" stroke="#000" stroke-width="1" fill="none"/>
<path d="M46.0 414.5 L48.0 414.5" stroke="#000" stroke-width="1" fill="none"/>
<path d="M221.5 414.5 L224.0 414.5" stroke="#000" stroke-width="1" fill="none"/>
<path d="M46.0 411.5 L48.0 411.5" stroke="#000" stroke-width="1" fill="none"/>
<path d="M221.5 411.5 L224.0 411.5" stroke="#000" stroke-width="1" fill="none"/>
<path d="M46.0 407.5 L48.0 407.5" stroke="#000" stroke-width="1" fill="none"/>
<path d="M221.5 407.5 L224.0 407.5" stroke="#000" stroke-width="1" fill="none"/>
<path d="M46.0 404.5 L48.0 404.5" stroke="#000" stroke-width="1" fill="none"/>
<path d="M221.5 404.5 L224.0 404.5" stroke="#000" stroke-width="1" fill="none"/>
<path d="M46.0 401.5 L48.0 401.5" stroke="#000" stroke-width="1" fill="none"/>
<path d="M221.5 401.5 L224.0 401.5" stroke="#000" stroke-width="1" fill="none"/>
<path d="M46.0 397.5 L49.0 397.5" stroke="#000" stroke-width="1" fill="none"/>
<path d="M220.5 397.5 L224.0 397.5" stroke="#000" stroke-width="1" fill="none"/>
<path d="M46.0 394.5 L48.0 394.5" stroke="#000" stroke-width="1" fill="none"/>
<path d="M221.5 394.5 L224.0 394.5" stroke="#000" stroke-width="1" fill="none"/>
<path d="M46.0 391.5 L48.0 391.5" stroke="#000" stroke-width="1" fill="none"/>
<path d="M221.5 391.5 L224.0 391.5" stroke="#000" stroke-width="1" fill="none"/>
<path d="M46.0 387.5 L48.0 387.5" stroke="#000" stroke-width="1" fill="none"/>
<path d="M221.5 387.5 L224.0 387.5" stroke="#000" stroke-width="1" fill="none"/>
<path d="M46.0 384.5 L48.0 384.5" stroke="#000" stroke-width="1" fill="none"/>
<path d="M221.5 384.5 L224.0 384.5" stroke="#000" stroke-width="1" fill="none"/>
<path d="M46.0 381.5 L48.0 381.5" stroke="#000" stroke-width="1" fill="none"/>
<path d="M221.5 381.5 L224.0 381.5" stroke="#000" stroke-width="1" fill="none"/>
<path d="M46.0 377.5 L48.0 377.5" stroke="#000" stroke-width="1" fill="none"/>
<path d="M221.5 377.5 L224.0 377.5" stroke="#000" stroke-width="1" fill="none"/>
<path d="M46.0 374.5 L48.0 374.5" stroke="#000" stroke-width="1" fill="none"/>
<path d="M221.5 374.5 L224.0 374.5" stroke="#000" stroke-width="1" fill="none"/>
<path d="M46.0 371.5 L48.0 371.5" stroke="#000" stroke-width="1" fill="none"/>
<path d="M221.5 371.5 L224.0 371.5" stroke="#000" stroke-width="1" fill="none"/>
<path d="M46.0 367.5 L48.0 367.5" stroke="#000" stroke-width="1" fill="none"/>
<path d="M221.5 367.5 L224.0 367.5" stroke="#000" stroke-width="1" fill="none"/>
<path d="M46.0 364.5 L49.0 364.5" stroke="#000" stroke-width="1" fill="none"/>
<path d="M220.5 364.5 L224.0 364.5" stroke="#000" stroke-width="1" fill="none"/>
<path d="M46.0 360.5 L48.0 360.5" stroke="#000" stroke-width="1" fill="none"/>
<path d="M221.5 360.5 L224.0 360.5" stroke="#000" stroke-width="1" fill="none"/>
<path d="M46.0 357.5 L48.0 357.5" stroke="#000" stroke-width="1" fill="none"/>
<path d="M221.5 357.5 L224.0 357.5" stroke="#000" stroke-width="1" fill="none"/>
<path d="M46.0 354.5 L48.0 354.5" stroke="#000" stroke-width="1" fill="none"/>
<path d="M221.5 354.5 L224.0 354.5" stroke="#000" stroke-width="1" fill="none"/>
<path d="M46.0 350.5 L48.0 350.5" stroke="#000" stroke-width="1" fill="none"/>
<path d="M221.5 350.5 L224.0 350.5" stroke="#000" stroke-width="1" fill="none"/>
<path d="M46.0 347.5 L48.0 347.5" stroke="#000" stroke-width="1" fill="none"/>
<path d="M221.5 347.5 L224.0 347.5" stroke="#000" stroke-width="1" fill="none"/>
<path d="M46.0 344.5 L48.0 344.5" stroke="#000" stroke-width="1" fill="none"/>
<path d="M221.5 344.5 L224.0 344.5" stroke="#000" stroke-width="1" fill="none"/>
<path d="M46.0 340.5 L48.0 340.5" stroke="#000" stroke-width="1" fill="none"/>
<path d="M221.5 340.5 L224.0 340.5" stroke="#000" stroke-width="1" fill="none"/>
<path d="M46.0 337.5 L48.0 337.5" stroke="#000" stroke-width="1" fill="none"/>
<path d="M221.5 337.5 L224.0 337.5" stroke="#000" stroke-width="1" fill="none"/>
<path d="M46.0 334.5 L48.0 334.5" stroke="#000" stroke-width="1" fill="none"/>
<path d="M221.5 334.5 L224.0 334.5" stroke="#000" stroke-width="1" fill="none"/>
<path d="M46.0 330.5 L49.0 330.5" stroke="#000" stroke-width="1" fill="none"/>
<path d="M220.5 330.5 L224.0 330.5" stroke="#000" stroke-width="1" fill="none"/>
<path d="M46.0 327.5 L48.0 327.5" stroke="#000" stroke-width="1" fill="none"/>
<path d="M221.5 327.5 L224.0 327.5" stroke="#000" stroke-width="1" fill="none"/>
<path d="M46.0 323.5 L48.0 323.5" stroke="#000" stroke-width="1" fill="none"/>
<path d="M221.5 323.5 L224.0 323.5" stroke="#000" stroke-width="1" fill="none"/>
<path d="M46.0 320.5 L48.0 320.5" stroke="#000" stroke-width="1" fill="none"/>
<path d="M221.5 320.5 L224.0 320.5" stroke="#000" stroke-width="1" fill="none"/>
<path d="M46.0 317.5 L48.0 317.5" stroke="#000" stroke-width="1" fill="none"/>
<path d="M221.5 317.5 L224.0 317.5" stroke="#000" stroke-width="1" fill="none"/>
<path d="M46.0 313.5 L48.0 313.5" stroke="#000" stroke-width="1" fill="none"/>
<path d="M221.5 313.5 L224.0 313.5" stroke="#000" stroke-width="1" fill="none"/>
<path d="M46.0 310.5 L48.0 310.5" stroke="#000" stroke-width="1" fill="none"/>
<path d="M221.5 310.5 L224.0 310.5" stroke="#000" stroke-width="1" fill="none"/>
<path d="M46.0 307.5 L48.0 307.5" stroke="#000" stroke-width="1" fill="none"/>
<path d="M221.5 307.5 L224.0 307.5" stroke="#000" stroke-width="1" fill="none"/>
<path d="M46.0 303.5 L48.0 303.5" stroke="#000" stroke-width="1" fill="none"/>
<path d="M221.5 303.5 L224.0 303.5" stroke="#000" stroke-width="1" fill="none"/>
<path d="M46.0 300.5 L48.0 300.5" stroke="#000" stroke-width="1" fill="none"/>
<path d="M221.5 300.5 L224.0 300.5" stroke="#000" stroke-width="1" fill="none"/>
<path d="M46.0 297.5 L49.0 297.5" stroke="#000" stroke-width="1" fill="none"/>
<path d="M220.5 297.5 L224.0 297.5" stroke="#000" stroke-width="1" fill="none"/>
<path d="M46.0 293.5 L48.0 293.5" stroke="#000" stroke-width="1" fill="none"/>
<path d="M221.5 293.5 L224.0 293.5" stroke="#000" stroke-width="1" fill="none"/>
<path d="M46.0 290.5 L48.0 290.5" stroke="#000" stroke-width="1" fill="none"/>
<path d="M221.5 290.5 L224.0 290.5" stroke="#000" stroke-width="1" fill="none"/>
<path d="M46.0 287.5 L48.0 287.5" stroke="#000" stroke-width="1" fill="none"/>
<path d="M221.5 287.5 L224.0 287.5" stroke="#000" stroke-width="1" fill="none"/>
<path d="M46.0 283.5 L48.0 283.5" stroke="#000" stroke-width="1" fill="none"/>
<path d="M221.5 283.5 L224.0 283.5" stroke="#000" stroke-width="1" fill="none"/>
<path d="M46.0 280.5 L48.0 280.5" stroke="#000" stroke-width="1" fill="none"/>
<path d="M221.5 280.5 L224.0 280.5" stroke="#000" stroke-width="1" fill="none"/>
<path d="M46.0 276.5 L48.0 276.5" stroke="#000" stroke-width="1" fill="none"/>
<path d="M221.5 276.5 L224.0 276.5" stroke="#000" stroke-width="1" fill="none"/>
<path d="M46.0 273.5 L48.0 273.5" stroke="#000" stroke-width="1" fill="none"/>
<path d="M221.5 273.5 L224.0 273.5" stroke="#000" stroke-width="1" fill="none"/>
<path d="M46.0 270.5 L48.0 270.5" stroke="#000" stroke-width="1" fill="none"/>
<path d="M221.5 270.5 L224.0 270.5" stroke="#000" stroke-width="1" fill="none"/>
<path d="M46.0 266.5 L48.0 266.5" stroke="#000" stroke-width="1" fill="none"/>
<path d="M221.5 266.5 L224.0 266.5" stroke="#000" stroke-width="1" fill="none"/>
<path d="M46.0 263.5 L49.0 263.5" stroke="#000" stroke-width="1" fill="none"/>
<path d="M220.5 263.5 L224.0 263.5" stroke="#000" stroke-width="1" fill="none"/>
<path d="M90.5 428.0 L90.5 431.0" stroke="#000" stroke-width="1" fill="none"/>
<path d="M134.5 428.0 L134.5 431.0" stroke="#000" stroke-width="1" fill="none"/>
<path d="M90.5 264.0 L90.5 267.0" stroke="#000" stroke-width="1" fill="none"/>
<defs><linearGradient id="g250_263" x1="0" y1="0" x2="0" y2="1"><stop offset="0" stop-color="#ff0a00"/><stop offset="0.125" stop-color="#ff4000"/><stop offset="0.25" stop-color="#ff8000"/><stop offset="0.3" stop-color="#ffa000"/><stop offset="0.375" stop-color="#ffc673"/><stop offset="0.5" stop-color="#ffffff"/><stop offset="0.625" stop-color="#8fcaff"/><stop offset="0.75" stop-color="#0a84ff"/><stop offset="0.875" stop-color="#0042ff"/><stop offset="1" stop-color="#0000ff"/></linearGradient></defs>
<rect x="250.5" y="263.5" width="18" height="168" fill="url(#g250_263)" stroke="#000" stroke-width="1"/>
<path d="M264.0 284.5 L268.0 284.5" stroke="#000" stroke-width="1" fill="none"/>
<path d="M264.0 305.5 L268.0 305.5" stroke="#000" stroke-width="1" fill="none"/>
<path d="M264.0 326.5 L268.0 326.5" stroke="#000" stroke-width="1" fill="none"/>
<path d="M264.0 347.5 L268.0 347.5" stroke="#000" stroke-width="1" fill="none"/>
<path d="M264.0 368.5 L268.0 368.5" stroke="#000" stroke-width="1" fill="none"/>
<path d="M264.0 389.5 L268.0 389.5" stroke="#000" stroke-width="1" fill="none"/>
<path d="M264.0 410.5 L268.0 410.5" stroke="#000" stroke-width="1" fill="none"/>
<path shape-rendering="geometricPrecision" d="M381.5 289.5 L387.5 289.5 L389.5 293.5 L391.5 291.5 L394.5 292.5 L397.5 289.5 L406.5 289.5 L406.5 291.5 L406.5 301.5 L407.5 302.5 L408.5 306.5 L408.5 320.5 L406.5 326.5 L404.5 329.5 L403.5 334.5 L402.5 348.5 L401.5 351.5 L400.5 353.5 L397.5 355.5 L394.5 352.5 L394.5 351.5 L392.5 351.5 L390.5 352.5 L387.5 355.5 L381.5 355.5 Z" fill="#c8e6ff" stroke="#000" stroke-width="1"/>
<path shape-rendering="geometricPrecision" d="M381.5 300.5 L381.5 300.5 L385.5 299.5 L386.5 300.5 L387.5 308.5 L388.5 311.5 L388.5 340.5 L387.5 344.5 L382.5 346.5 L381.5 347.5 Z" fill="#96d0ff" stroke="#000" stroke-width="1"/>
<path shape-rendering="geometricPrecision" d="M381.5 312.5 L382.5 310.5 L384.5 307.5 L386.5 310.5 L387.5 317.5 L386.5 318.5 L386.5 333.5 L387.5 334.5 L382.5 338.5 L381.5 339.5 Z" fill="#55b4ff" stroke="#000" stroke-width="1"/>
<path shape-rendering="geometricPrecision" d="M384.5 319.5 L383.5 322.5 L384.5 326.5 L385.5 322.5 Z" fill="#1e98ff" stroke="#000" stroke-width="1"/>
<path shape-rendering="geometricPrecision" d="M401.5 300.5 L400.5 303.5 L398.5 307.5 L397.5 312.5 L397.5 318.5 L397.5 332.5 L399.5 334.5 L400.5 334.5 L401.5 330.5 L403.5 324.5 L404.5 318.5 L405.5 317.5 L405.5 314.5 L404.5 308.5 L404.5 302.5 Z" fill="#96d0ff" stroke="#000" stroke-width="1"/>
<rect x="401.0" y="313.0" width="1.0" height="2.0" fill="#000000" stroke="none"/>
<path shape-rendering="geometricPrecision" d="M411.5 298.5 L410.5 303.5 L409.5 306.5 L409.5 318.5 L408.5 327.5 L406.5 335.5 L406.5 340.5 L408.5 344.5 L410.5 345.5 L412.5 343.5 L412.5 340.5 L413.5 318.5 L413.5 308.5 L412.5 303.5 Z" fill="#ffe8c6" stroke="#000" stroke-width="1"/>
<rect x="410.8" y="327.0" width="0.8" height="4.0" fill="#ffb946" stroke="none"/>
<path shape-rendering="geometricPrecision" d="M413.5 263.5 L413.5 373.5 L414.5 377.5 L415.5 380.5 L423.5 380.5 L424.5 384.5 L425.5 389.5 L443.5 389.5 L445.5 385.5 L446.5 381.5 L450.5 378.5 L451.5 373.5 L452.5 367.5 L454.5 362.5 L454.5 263.5 Z" fill="#c8e6ff" stroke="#000" stroke-width="1"/>
<path shape-rendering="geometricPrecision" d="M417.5 263.5 L417.5 275.5 L415.5 290.5 L414.5 304.5 L414.5 342.5 L415.5 352.5 L415.5 362.5 L416.5 368.5 L419.5 373.5 L423.5 374.5 L426.5 378.5 L430.5 382.5 L439.5 382.5 L444.5 377.5 L446.5 371.5 L449.5 368.5 L452.5 365.5 L454.5 363.5 L454.5 263.5 Z" fill="#96d0ff" stroke="#000" stroke-width="1"/>
<path shape-rendering="geometricPrecision" d="M418.5 263.5 L418.5 275.5 L416.5 290.5 L415.5 304.5 L415.5 342.5 L416.5 352.5 L416.5 359.5 L418.5 364.5 L422.5 368.5 L426.5 371.5 L429.5 374.5 L433.5 377.5 L439.5 377.5 L443.5 373.5 L445.5 368.5 L448.5 365.5 L453.5 361.5 L454.5 361.5 L454.5 263.5 Z" fill="#55b4ff" stroke="#000" stroke-width="1"/>
<path shape-rendering="geometricPrecision" d="M419.5 263.5 L419.5 275.5 L418.5 290.5 L418.5 304.5 L418.5 352.5 L418.5 357.5 L420.5 360.5 L423.5 360.5 L424.5 363.5 L426.5 366.5 L428.5 369.5 L432.5 371.5 L439.5 371.5 L443.5 368.5 L446.5 363.5 L453.5 359.5 L454.5 359.5 L454.5 263.5 Z" fill="#1e98ff" stroke="#000" stroke-width="1"/>
<path shape-rendering="geometricPrecision" d="M423.5 263.5 L423.5 273.5 L421.5 283.5 L420.5 290.5 L420.5 296.5 L421.5 301.5 L424.5 304.5 L426.5 305.5 L426.5 311.5 L427.5 317.5 L427.5 322.5 L426.5 326.5 L426.5 332.5 L426.5 358.5 L428.5 363.5 L429.5 365.5 L432.5 367.5 L439.5 367.5 L441.5 366.5 L453.5 355.5 L454.5 355.5 L454.5 263.5 Z" fill="#0a82fc" stroke="#000" stroke-width="1"/>
<path shape-rendering="geometricPrecision" d="M435.5 276.5 L432.5 280.5 L431.5 288.5 L430.5 298.5 L430.5 303.5 L428.5 309.5 L427.5 317.5 L428.5 323.5 L434.5 328.5 L437.5 325.5 L440.5 320.5 L442.5 316.5 L443.5 311.5 L444.5 305.5 L443.5 296.5 L442.5 289.5 L441.5 283.5 L438.5 279.5 Z" fill="#1e98ff" stroke="#000" stroke-width="1"/>
<path shape-rendering="geometricPrecision" d="M446.5 263.5 L446.5 290.5 L448.5 296.5 L448.5 313.5 L448.5 326.5 L447.5 330.5 L446.5 333.5 L444.5 336.5 L441.5 339.5 L438.5 343.5 L436.5 348.5 L437.5 354.5 L438.5 356.5 L443.5 356.5 L446.5 352.5 L451.5 350.5 L453.5 354.5 L454.5 354.5 L454.5 263.5 Z" fill="#005ffa" stroke="#000" stroke-width="1"/>
<path shape-rendering="geometricPrecision" d="M427.5 268.5 L427.5 272.5 L427.5 278.5 L428.5 272.5 Z" fill="#000000" stroke="#000" stroke-width="1"/>
<rect x="413.6" y="304.0" width="4.4" height="38.0" fill="#000000" stroke="none"/>
<path shape-rendering="geometricPrecision" d="M413.5 292.5 L416.5 292.5 L418.5 304.5 L413.5 304.5 Z" fill="#000000" stroke="#000" stroke-width="1"/>
<path shape-rendering="geometricPrecision" d="M455.5 263.5 L497.5 263.5 L497.5 342.5 L496.5 354.5 L495.5 364.5 L494.5 368.5 L490.5 372.5 L485.5 375.5 L478.5 376.5 L474.5 379.5 L470.5 380.5 L466.5 377.5 L465.5 374.5 L463.5 371.5 L459.5 368.5 L457.5 364.5 L456.5 359.5 L455.5 358.5 Z" fill="#ffebc8" stroke="#000" stroke-width="1"/>
<path shape-rendering="geometricPrecision" d="M455.5 263.5 L495.5 263.5 L495.5 290.5 L495.5 320.5 L494.5 351.5 L494.5 359.5 L491.5 365.5 L485.5 370.5 L476.5 373.5 L472.5 375.5 L468.5 373.5 L466.5 370.5 L460.5 366.5 L456.5 362.5 L455.5 361.5 Z" fill="#ffdeaa" stroke="#000" stroke-width="1"/>
<path shape-rendering="geometricPrecision" d="M455.5 263.5 L494.5 263.5 L494.5 290.5 L494.5 320.5 L494.5 340.5 L493.5 349.5 L492.5 357.5 L490.5 363.5 L485.5 367.5 L478.5 368.5 L473.5 371.5 L468.5 368.5 L462.5 364.5 L457.5 359.5 L455.5 359.5 Z" fill="#ffcd82" stroke="#000" stroke-width="1"/>
<path shape-rendering="geometricPrecision" d="M455.5 263.5 L492.5 263.5 L492.5 271.5 L493.5 274.5 L494.5 290.5 L493.5 320.5 L493.5 340.5 L492.5 347.5 L491.5 354.5 L489.5 360.5 L485.5 364.5 L478.5 365.5 L473.5 367.5 L467.5 364.5 L461.5 359.5 L456.5 357.5 L455.5 357.5 Z" fill="#ffbb55" stroke="#000" stroke-width="1"/>
<path shape-rendering="geometricPrecision" d="M455.5 263.5 L485.5 263.5 L487.5 269.5 L491.5 274.5 L492.5 280.5 L492.5 284.5 L493.5 296.5 L493.5 320.5 L492.5 335.5 L491.5 343.5 L490.5 350.5 L488.5 357.5 L485.5 360.5 L478.5 362.5 L473.5 363.5 L466.5 359.5 L460.5 355.5 L456.5 354.5 L455.5 355.5 Z" fill="#ffa51e" stroke="#000" stroke-width="1"/>
<path shape-rendering="geometricPrecision" d="M455.5 265.5 L456.5 265.5 L458.5 267.5 L460.5 266.5 L463.5 268.5 L465.5 265.5 L470.5 265.5 L473.5 268.5 L477.5 267.5 L480.5 269.5 L482.5 273.5 L484.5 276.5 L485.5 283.5 L488.5 287.5 L491.5 291.5 L492.5 295.5 L492.5 296.5 L492.5 303.5 L492.5 309.5 L491.5 318.5 L491.5 326.5 L490.5 332.5 L490.5 342.5 L488.5 349.5 L486.5 355.5 L482.5 358.5 L472.5 358.5 L465.5 354.5 L460.5 351.5 L457.5 352.5 L455.5 353.5 Z" fill="#ff8c00" stroke="#000" stroke-width="1"/>
<path shape-rendering="geometricPrecision" d="M455.5 276.5 L456.5 276.5 L458.5 279.5 L461.5 277.5 L465.5 275.5 L470.5 275.5 L476.5 278.5 L479.5 283.5 L481.5 289.5 L482.5 295.5 L483.5 296.5 L483.5 303.5 L484.5 311.5 L483.5 318.5 L483.5 326.5 L482.5 332.5 L480.5 336.5 L478.5 340.5 L476.5 343.5 L475.5 347.5 L471.5 347.5 L469.5 346.5 L468.5 342.5 L462.5 336.5 L460.5 333.5 L459.5 330.5 L458.5 326.5 L457.5 320.5 L456.5 313.5 L455.5 313.5 Z" fill="#ff6900" stroke="#000" stroke-width="1"/>
<path shape-rendering="geometricPrecision" d="M465.5 287.5 L470.5 287.5 L472.5 292.5 L474.5 297.5 L475.5 303.5 L474.5 311.5 L472.5 314.5 L470.5 317.5 L466.5 315.5 L464.5 311.5 L462.5 303.5 L461.5 297.5 L463.5 291.5 Z" fill="#ff4100" stroke="#000" stroke-width="1"/>
<rect x="496.0" y="300.0" width="1.8" height="42.8" fill="#000000" stroke="none"/>
<path shape-rendering="geometricPrecision" d="M498.5 298.5 L500.5 302.5 L501.5 305.5 L503.5 301.5 L505.5 307.5 L506.5 302.5 L507.5 295.5 L509.5 297.5 L509.5 317.5 L510.5 318.5 L510.5 349.5 L508.5 353.5 L506.5 355.5 L498.5 355.5 L497.5 342.5 L497.5 298.5 Z" fill="#c8e6ff" stroke="#000" stroke-width="1"/>
<path shape-rendering="geometricPrecision" d="M503.5 315.5 L501.5 319.5 L499.5 320.5 L498.5 340.5 L501.5 343.5 L503.5 347.5 L504.5 343.5 L506.5 339.5 L505.5 324.5 L504.5 320.5 Z" fill="#96d0ff" stroke="#000" stroke-width="1"/>
<path shape-rendering="geometricPrecision" d="M503.5 325.5 L501.5 330.5 L502.5 333.5 L503.5 338.5 L504.5 331.5 Z" fill="#55b4ff" stroke="#000" stroke-width="1"/>
<path shape-rendering="geometricPrecision" d="M525.5 327.5 L524.5 332.5 L525.5 336.5 L525.5 332.5 Z" fill="#000000" stroke="#000" stroke-width="1"/>
<rect x="527.4" y="294.0" width="1.0" height="24.5" fill="#c8e6ff" stroke="none"/>
<path d="M527.0 294.0 L527.0 318.5" stroke="#000" stroke-width="1" fill="none"/>
<rect x="526.5" y="294.0" width="1.9" height="3.5" fill="#000000" stroke="none"/>
<rect x="366.0" y="264.0" width="15.0" height="167.0" fill="#a5a5a5" stroke="none"/>
<rect x="529.0" y="264.0" width="15.0" height="167.0" fill="#a5a5a5" stroke="none"/>
<rect x="453.3" y="264.0" width="1.7" height="167.0" fill="#acacac" stroke="none"/>
<rect x="454.5" y="264.0" width="1.0" height="86.0" fill="#f4f0ec" stroke="none"/>
<path d="M365.0 263.5 L545.0 263.5" stroke="#000" stroke-width="1" fill="none"/>
<path d="M365.5 263.0 L365.5 432.0" stroke="#000" stroke-width="1" fill="none"/>
<path d="M544.5 263.0 L544.5 432.0" stroke="#000" stroke-width="1" fill="none"/>
<path d="M365.0 431.5 L455.0 431.5" stroke="#000" stroke-width="1" fill="none"/>
<path d="M528.0 431.5 L545.0 431.5" stroke="#000" stroke-width="1" fill="none"/>
<path d="M366.0 431.5 L369.0 431.5" stroke="#000" stroke-width="1" fill="none"/>
<path d="M540.5 431.5 L544.0 431.5" stroke="#000" stroke-width="1" fill="none"/>
<path d="M366.0 428.5 L368.0 428.5" stroke="#000" stroke-width="1" fill="none"/>
<path d="M541.5 428.5 L544.0 428.5" stroke="#000" stroke-width="1" fill="none"/>
<path d="M366.0 424.5 L368.0 424.5" stroke="#000" stroke-width="1" fill="none"/>
<path d="M541.5 424.5 L544.0 424.5" stroke="#000" stroke-width="1" fill="none"/>
<path d="M366.0 421.5 L368.0 421.5" stroke="#000" stroke-width="1" fill="none"/>
<path d="M541.5 421.5 L544.0 421.5" stroke="#000" stroke-width="1" fill="none"/>
<path d="M366.0 418.5 L368.0 418.5" stroke="#000" stroke-width="1" fill="none"/>
<path d="M541.5 418.5 L544.0 418.5" stroke="#000" stroke-width="1" fill="none"/>
<path d="M366.0 414.5 L368.0 414.5" stroke="#000" stroke-width="1" fill="none"/>
<path d="M541.5 414.5 L544.0 414.5" stroke="#000" stroke-width="1" fill="none"/>
<path d="M366.0 411.5 L368.0 411.5" stroke="#000" stroke-width="1" fill="none"/>
<path d="M541.5 411.5 L544.0 411.5" stroke="#000" stroke-width="1" fill="none"/>
<path d="M366.0 407.5 L368.0 407.5" stroke="#000" stroke-width="1" fill="none"/>
<path d="M541.5 407.5 L544.0 407.5" stroke="#000" stroke-width="1" fill="none"/>
<path d="M366.0 404.5 L368.0 404.5" stroke="#000" stroke-width="1" fill="none"/>
<path d="M541.5 404.5 L544.0 404.5" stroke="#000" stroke-width="1" fill="none"/>
<path d="M366.0 401.5 L368.0 401.5" stroke="#000" stroke-width="1" fill="none"/>
<path d="M541.5 401.5 L544.0 401.5" stroke="#000" stroke-width="1" fill="none"/>
<path d="M366.0 397.5 L369.0 397.5" stroke="#000" stroke-width="1" fill="none"/>
<path d="M540.5 397.5 L544.0 397.5" stroke="#000" stroke-width="1" fill="none"/>
<path d="M366.0 394.5 L368.0 394.5" stroke="#000" stroke-width="1" fill="none"/>
<path d="M541.5 394.5 L544.0 394.5" stroke="#000" stroke-width="1" fill="none"/>
<path d="M366.0 391.5 L368.0 391.5" stroke="#000" stroke-width="1" fill="none"/>
<path d="M541.5 391.5 L544.0 391.5" stroke="#000" stroke-width="1" fill="none"/>
<path d="M366.0 387.5 L368.0 387.5" stroke="#000" stroke-width="1" fill="none"/>
<path d="M541.5 387.5 L544.0 387.5" stroke="#000" stroke-width="1" fill="none"/>
<path d="M366.0 384.5 L368.0 384.5" stroke="#000" stroke-width="1" fill="none"/>
<path d="M541.5 384.5 L544.0 384.5" stroke="#000" stroke-width="1" fill="none"/>
<path d="M366.0 381.5 L368.0 381.5" stroke="#000" stroke-width="1" fill="none"/>
<path d="M541.5 381.5 L544.0 381.5" stroke="#000" stroke-width="1" fill="none"/>
<path d="M366.0 377.5 L368.0 377.5" stroke="#000" stroke-width="1" fill="none"/>
<path d="M541.5 377.5 L544.0 377.5" stroke="#000" stroke-width="1" fill="none"/>
<path d="M366.0 374.5 L368.0 374.5" stroke="#000" stroke-width="1" fill="none"/>
<path d="M541.5 374.5 L544.0 374.5" stroke="#000" stroke-width="1" fill="none"/>
<path d="M366.0 371.5 L368.0 371.5" stroke="#000" stroke-width="1" fill="none"/>
<path d="M541.5 371.5 L544.0 371.5" stroke="#000" stroke-width="1" fill="none"/>
<path d="M366.0 367.5 L368.0 367.5" stroke="#000" stroke-width="1" fill="none"/>
<path d="M541.5 367.5 L544.0 367.5" stroke="#000" stroke-width="1" fill="none"/>
<path d="M366.0 364.5 L369.0 364.5" stroke="#000" stroke-width="1" fill="none"/>
<path d="M540.5 364.5 L544.0 364.5" stroke="#000" stroke-width="1" fill="none"/>
<path d="M366.0 360.5 L368.0 360.5" stroke="#000" stroke-width="1" fill="none"/>
<path d="M541.5 360.5 L544.0 360.5" stroke="#000" stroke-width="1" fill="none"/>
<path d="M366.0 357.5 L368.0 357.5" stroke="#000" stroke-width="1" fill="none"/>
<path d="M541.5 357.5 L544.0 357.5" stroke="#000" stroke-width="1" fill="none"/>
<path d="M366.0 354.5 L368.0 354.5" stroke="#000" stroke-width="1" fill="none"/>
<path d="M541.5 354.5 L544.0 354.5" stroke="#000" stroke-width="1" fill="none"/>
<path d="M366.0 350.5 L368.0 350.5" stroke="#000" stroke-width="1" fill="none"/>
<path d="M541.5 350.5 L544.0 350.5" stroke="#000" stroke-width="1" fill="none"/>
<path d="M366.0 347.5 L368.0 347.5" stroke="#000" stroke-width="1" fill="none"/>
<path d="M541.5 347.5 L544.0 347.5" stroke="#000" stroke-width="1" fill="none"/>
<path d="M366.0 344.5 L368.0 344.5" stroke="#000" stroke-width="1" fill="none"/>
<path d="M541.5 344.5 L544.0 344.5" stroke="#000" stroke-width="1" fill="none"/>
<path d="M366.0 340.5 L368.0 340.5" stroke="#000" stroke-width="1" fill="none"/>
<path d="M541.5 340.5 L544.0 340.5" stroke="#000" stroke-width="1" fill="none"/>
<path d="M366.0 337.5 L368.0 337.5" stroke="#000" stroke-width="1" fill="none"/>
<path d="M541.5 337.5 L544.0 337.5" stroke="#000" stroke-width="1" fill="none"/>
<path d="M366.0 334.5 L368.0 334.5" stroke="#000" stroke-width="1" fill="none"/>
<path d="M541.5 334.5 L544.0 334.5" stroke="#000" stroke-width="1" fill="none"/>
<path d="M366.0 330.5 L369.0 330.5" stroke="#000" stroke-width="1" fill="none"/>
<path d="M540.5 330.5 L544.0 330.5" stroke="#000" stroke-width="1" fill="none"/>
<path d="M366.0 327.5 L368.0 327.5" stroke="#000" stroke-width="1" fill="none"/>
<path d="M541.5 327.5 L544.0 327.5" stroke="#000" stroke-width="1" fill="none"/>
<path d="M366.0 323.5 L368.0 323.5" stroke="#000" stroke-width="1" fill="none"/>
<path d="M541.5 323.5 L544.0 323.5" stroke="#000" stroke-width="1" fill="none"/>
<path d="M366.0 320.5 L368.0 320.5" stroke="#000" stroke-width="1" fill="none"/>
<path d="M541.5 320.5 L544.0 320.5" stroke="#000" stroke-width="1" fill="none"/>
<path d="M366.0 317.5 L368.0 317.5" stroke="#000" stroke-width="1" fill="none"/>
<path d="M541.5 317.5 L544.0 317.5" stroke="#000" stroke-width="1" fill="none"/>
<path d="M366.0 313.5 L368.0 313.5" stroke="#000" stroke-width="1" fill="none"/>
<path d="M541.5 313.5 L544.0 313.5" stroke="#000" stroke-width="1" fill="none"/>
<path d="M366.0 310.5 L368.0 310.5" stroke="#000" stroke-width="1" fill="none"/>
<path d="M541.5 310.5 L544.0 310.5" stroke="#000" stroke-width="1" fill="none"/>
<path d="M366.0 307.5 L368.0 307.5" stroke="#000" stroke-width="1" fill="none"/>
<path d="M541.5 307.5 L544.0 307.5" stroke="#000" stroke-width="1" fill="none"/>
<path d="M366.0 303.5 L368.0 303.5" stroke="#000" stroke-width="1" fill="none"/>
<path d="M541.5 303.5 L544.0 303.5" stroke="#000" stroke-width="1" fill="none"/>
<path d="M366.0 300.5 L368.0 300.5" stroke="#000" stroke-width="1" fill="none"/>
<path d="M541.5 300.5 L544.0 300.5" stroke="#000" stroke-width="1" fill="none"/>
<path d="M366.0 297.5 L369.0 297.5" stroke="#000" stroke-width="1" fill="none"/>
<path d="M540.5 297.5 L544.0 297.5" stroke="#000" stroke-width="1" fill="none"/>
<path d="M366.0 293.5 L368.0 293.5" stroke="#000" stroke-width="1" fill="none"/>
<path d="M541.5 293.5 L544.0 293.5" stroke="#000" stroke-width="1" fill="none"/>
<path d="M366.0 290.5 L368.0 290.5" stroke="#000" stroke-width="1" fill="none"/>
<path d="M541.5 290.5 L544.0 290.5" stroke="#000" stroke-width="1" fill="none"/>
<path d="M366.0 287.5 L368.0 287.5" stroke="#000" stroke-width="1" fill="none"/>
<path d="M541.5 287.5 L544.0 287.5" stroke="#000" stroke-width="1" fill="none"/>
<path d="M366.0 283.5 L368.0 283.5" stroke="#000" stroke-width="1" fill="none"/>
<path d="M541.5 283.5 L544.0 283.5" stroke="#000" stroke-width="1" fill="none"/>
<path d="M366.0 280.5 L368.0 280.5" stroke="#000" stroke-width="1" fill="none"/>
<path d="M541.5 280.5 L544.0 280.5" stroke="#000" stroke-width="1" fill="none"/>
<path d="M366.0 276.5 L368.0 276.5" stroke="#000" stroke-width="1" fill="none"/>
<path d="M541.5 276.5 L544.0 276.5" stroke="#000" stroke-width="1" fill="none"/>
<path d="M366.0 273.5 L368.0 273.5" stroke="#000" stroke-width="1" fill="none"/>
<path d="M541.5 273.5 L544.0 273.5" stroke="#000" stroke-width="1" fill="none"/>
<path d="M366.0 270.5 L368.0 270.5" stroke="#000" stroke-width="1" fill="none"/>
<path d="M541.5 270.5 L544.0 270.5" stroke="#000" stroke-width="1" fill="none"/>
<path d="M366.0 266.5 L368.0 266.5" stroke="#000" stroke-width="1" fill="none"/>
<path d="M541.5 266.5 L544.0 266.5" stroke="#000" stroke-width="1" fill="none"/>
<path d="M366.0 263.5 L369.0 263.5" stroke="#000" stroke-width="1" fill="none"/>
<path d="M540.5 263.5 L544.0 263.5" stroke="#000" stroke-width="1" fill="none"/>
<path d="M410.5 428.0 L410.5 431.0" stroke="#000" stroke-width="1" fill="none"/>
<path d="M454.5 428.0 L454.5 431.0" stroke="#000" stroke-width="1" fill="none"/>
<path d="M410.5 264.0 L410.5 267.0" stroke="#000" stroke-width="1" fill="none"/>
<defs><linearGradient id="g563_263" x1="0" y1="0" x2="0" y2="1"><stop offset="0" stop-color="#ff0a00"/><stop offset="0.125" stop-color="#ff4000"/><stop offset="0.25" stop-color="#ff8000"/><stop offset="0.3" stop-color="#ffa000"/><stop offset="0.375" stop-color="#ffc673"/><stop offset="0.5" stop-color="#ffffff"/><stop offset="0.625" stop-color="#8fcaff"/><stop offset="0.75" stop-color="#0a84ff"/><stop offset="0.875" stop-color="#0042ff"/><stop offset="1" stop-color="#0000ff"/></linearGradient></defs>
<rect x="563.5" y="263.5" width="18" height="168" fill="url(#g563_263)" stroke="#000" stroke-width="1"/>
<path d="M577.0 284.5 L581.0 284.5" stroke="#000" stroke-width="1" fill="none"/>
<path d="M577.0 305.5 L581.0 305.5" stroke="#000" stroke-width="1" fill="none"/>
<path d="M577.0 326.5 L581.0 326.5" stroke="#000" stroke-width="1" fill="none"/>
<path d="M577.0 347.5 L581.0 347.5" stroke="#000" stroke-width="1" fill="none"/>
<path d="M577.0 368.5 L581.0 368.5" stroke="#000" stroke-width="1" fill="none"/>
<path d="M577.0 389.5 L581.0 389.5" stroke="#000" stroke-width="1" fill="none"/>
<path d="M577.0 410.5 L581.0 410.5" stroke="#000" stroke-width="1" fill="none"/>
</g>
<g>
<text x="31.9" y="17.2" font-size="13.8" text-anchor="start" textLength="67.9" lengthAdjust="spacingAndGlyphs">Meridional</text>
<text x="106.2" y="17.2" font-size="13.8" text-anchor="start" textLength="39.6" lengthAdjust="spacingAndGlyphs">Winds</text>
<text x="153.7" y="17.2" font-size="13.8" text-anchor="start" textLength="44.9" lengthAdjust="spacingAndGlyphs">(warm</text>
<text x="206.8" y="17.2" font-size="13.8" text-anchor="start" textLength="31.3" lengthAdjust="spacingAndGlyphs">side)</text>
<text x="40.5" y="191.6" font-size="11" text-anchor="end" textLength="12.8" lengthAdjust="spacingAndGlyphs">60</text>
<text x="40.5" y="161.7" font-size="11" text-anchor="end" textLength="12.8" lengthAdjust="spacingAndGlyphs">70</text>
<text x="40.5" y="128.1" font-size="11" text-anchor="end" textLength="12.8" lengthAdjust="spacingAndGlyphs">80</text>
<text x="40.5" y="94.5" font-size="11" text-anchor="end" textLength="12.8" lengthAdjust="spacingAndGlyphs">90</text>
<text x="40.5" y="60.9" font-size="11" text-anchor="end" textLength="19.2" lengthAdjust="spacingAndGlyphs">100</text>
<text x="40.5" y="30.3" font-size="11" text-anchor="end" textLength="19.2" lengthAdjust="spacingAndGlyphs">110</text>
<text x="44.8" y="206.9" font-size="11" text-anchor="middle" textLength="22.3" lengthAdjust="spacingAndGlyphs">−90</text>
<text x="90.5" y="206.9" font-size="11" text-anchor="middle" textLength="6.6" lengthAdjust="spacingAndGlyphs">0</text>
<text x="134.5" y="206.9" font-size="11" text-anchor="middle" textLength="13.2" lengthAdjust="spacingAndGlyphs">90</text>
<text x="179.5" y="206.9" font-size="11" text-anchor="middle" textLength="6.6" lengthAdjust="spacingAndGlyphs">0</text>
<text x="223.8" y="206.9" font-size="11" text-anchor="middle" textLength="22.3" lengthAdjust="spacingAndGlyphs">−90</text>
<text x="134.6" y="220.2" font-size="11" text-anchor="middle" textLength="52.2" lengthAdjust="spacingAndGlyphs">Lat (deg)</text>
<text x="10.5" y="107.5" font-size="11" text-anchor="middle" textLength="74.0" lengthAdjust="spacingAndGlyphs" transform="rotate(-90 10.5 107.5)">Altitude (km)</text>
<text x="279.9" y="24.9" font-size="11" text-anchor="start" textLength="31.2" lengthAdjust="spacingAndGlyphs">200.0</text>
<text x="281.1" y="45.9" font-size="11" text-anchor="start" textLength="30.0" lengthAdjust="spacingAndGlyphs">150.0</text>
<text x="281.0" y="66.9" font-size="11" text-anchor="start" textLength="30.0" lengthAdjust="spacingAndGlyphs">100.0</text>
<text x="285.0" y="87.9" font-size="11" text-anchor="start" textLength="24.5" lengthAdjust="spacingAndGlyphs">50.0</text>
<text x="291.0" y="108.9" font-size="11" text-anchor="start" textLength="16.9" lengthAdjust="spacingAndGlyphs">0.0</text>
<text x="280.2" y="129.9" font-size="11" text-anchor="start" textLength="32.9" lengthAdjust="spacingAndGlyphs">−50.0</text>
<text x="274.3" y="150.9" font-size="11" text-anchor="start" textLength="39.4" lengthAdjust="spacingAndGlyphs">−100.0</text>
<text x="274.3" y="171.9" font-size="11" text-anchor="start" textLength="39.4" lengthAdjust="spacingAndGlyphs">−150.0</text>
<text x="274.3" y="192.9" font-size="11" text-anchor="start" textLength="39.4" lengthAdjust="spacingAndGlyphs">−200.0</text>
<text x="367.0" y="17.2" font-size="13.8" text-anchor="start" textLength="37.7" lengthAdjust="spacingAndGlyphs">Zonal</text>
<text x="411.1" y="17.2" font-size="13.8" text-anchor="start" textLength="39.6" lengthAdjust="spacingAndGlyphs">Winds</text>
<text x="458.6" y="17.2" font-size="13.8" text-anchor="start" textLength="44.9" lengthAdjust="spacingAndGlyphs">(warm</text>
<text x="511.8" y="17.2" font-size="13.8" text-anchor="start" textLength="30.5" lengthAdjust="spacingAndGlyphs">side)</text>
<text x="360.5" y="191.6" font-size="11" text-anchor="end" textLength="12.8" lengthAdjust="spacingAndGlyphs">60</text>
<text x="360.5" y="161.7" font-size="11" text-anchor="end" textLength="12.8" lengthAdjust="spacingAndGlyphs">70</text>
<text x="360.5" y="128.1" font-size="11" text-anchor="end" textLength="12.8" lengthAdjust="spacingAndGlyphs">80</text>
<text x="360.5" y="94.5" font-size="11" text-anchor="end" textLength="12.8" lengthAdjust="spacingAndGlyphs">90</text>
<text x="360.5" y="60.9" font-size="11" text-anchor="end" textLength="19.2" lengthAdjust="spacingAndGlyphs">100</text>
<text x="360.5" y="30.3" font-size="11" text-anchor="end" textLength="19.2" lengthAdjust="spacingAndGlyphs">110</text>
<text x="364.8" y="206.9" font-size="11" text-anchor="middle" textLength="22.3" lengthAdjust="spacingAndGlyphs">−90</text>
<text x="410.5" y="206.9" font-size="11" text-anchor="middle" textLength="6.6" lengthAdjust="spacingAndGlyphs">0</text>
<text x="454.5" y="206.9" font-size="11" text-anchor="middle" textLength="13.2" lengthAdjust="spacingAndGlyphs">90</text>
<text x="499.5" y="206.9" font-size="11" text-anchor="middle" textLength="6.6" lengthAdjust="spacingAndGlyphs">0</text>
<text x="543.8" y="206.9" font-size="11" text-anchor="middle" textLength="22.3" lengthAdjust="spacingAndGlyphs">−90</text>
<text x="454.6" y="220.2" font-size="11" text-anchor="middle" textLength="52.2" lengthAdjust="spacingAndGlyphs">Lat (deg)</text>
<text x="330.5" y="107.5" font-size="11" text-anchor="middle" textLength="74.0" lengthAdjust="spacingAndGlyphs" transform="rotate(-90 330.5 107.5)">Altitude (km)</text>
<text x="592.9" y="24.9" font-size="11" text-anchor="start" textLength="31.2" lengthAdjust="spacingAndGlyphs">200.0</text>
<text x="594.1" y="45.9" font-size="11" text-anchor="start" textLength="30.0" lengthAdjust="spacingAndGlyphs">150.0</text>
<text x="594.0" y="66.9" font-size="11" text-anchor="start" textLength="30.0" lengthAdjust="spacingAndGlyphs">100.0</text>
<text x="598.0" y="87.9" font-size="11" text-anchor="start" textLength="24.5" lengthAdjust="spacingAndGlyphs">50.0</text>
<text x="604.0" y="108.9" font-size="11" text-anchor="start" textLength="16.9" lengthAdjust="spacingAndGlyphs">0.0</text>
<text x="593.2" y="129.9" font-size="11" text-anchor="start" textLength="32.9" lengthAdjust="spacingAndGlyphs">−50.0</text>
<text x="587.3" y="150.9" font-size="11" text-anchor="start" textLength="39.4" lengthAdjust="spacingAndGlyphs">−100.0</text>
<text x="587.3" y="171.9" font-size="11" text-anchor="start" textLength="39.4" lengthAdjust="spacingAndGlyphs">−150.0</text>
<text x="587.3" y="192.9" font-size="11" text-anchor="start" textLength="39.4" lengthAdjust="spacingAndGlyphs">−200.0</text>
<text x="36.2" y="257.2" font-size="13.8" text-anchor="start" textLength="67.2" lengthAdjust="spacingAndGlyphs">Meridional</text>
<text x="109.8" y="257.2" font-size="13.8" text-anchor="start" textLength="39.6" lengthAdjust="spacingAndGlyphs">Winds</text>
<text x="158.3" y="257.2" font-size="13.8" text-anchor="start" textLength="34.2" lengthAdjust="spacingAndGlyphs">(cold</text>
<text x="200.7" y="257.2" font-size="13.8" text-anchor="start" textLength="31.3" lengthAdjust="spacingAndGlyphs">side)</text>
<text x="40.5" y="431.6" font-size="11" text-anchor="end" textLength="12.8" lengthAdjust="spacingAndGlyphs">60</text>
<text x="40.5" y="401.7" font-size="11" text-anchor="end" textLength="12.8" lengthAdjust="spacingAndGlyphs">70</text>
<text x="40.5" y="368.1" font-size="11" text-anchor="end" textLength="12.8" lengthAdjust="spacingAndGlyphs">80</text>
<text x="40.5" y="334.5" font-size="11" text-anchor="end" textLength="12.8" lengthAdjust="spacingAndGlyphs">90</text>
<text x="40.5" y="300.9" font-size="11" text-anchor="end" textLength="19.2" lengthAdjust="spacingAndGlyphs">100</text>
<text x="40.5" y="270.3" font-size="11" text-anchor="end" textLength="19.2" lengthAdjust="spacingAndGlyphs">110</text>
<text x="44.8" y="446.9" font-size="11" text-anchor="middle" textLength="22.3" lengthAdjust="spacingAndGlyphs">−90</text>
<text x="90.5" y="446.9" font-size="11" text-anchor="middle" textLength="6.6" lengthAdjust="spacingAndGlyphs">0</text>
<text x="134.5" y="446.9" font-size="11" text-anchor="middle" textLength="13.2" lengthAdjust="spacingAndGlyphs">90</text>
<text x="179.5" y="446.9" font-size="11" text-anchor="middle" textLength="6.6" lengthAdjust="spacingAndGlyphs">0</text>
<text x="223.8" y="446.9" font-size="11" text-anchor="middle" textLength="22.3" lengthAdjust="spacingAndGlyphs">−90</text>
<text x="134.6" y="460.2" font-size="11" text-anchor="middle" textLength="52.2" lengthAdjust="spacingAndGlyphs">Lat (deg)</text>
<text x="10.5" y="347.5" font-size="11" text-anchor="middle" textLength="74.0" lengthAdjust="spacingAndGlyphs" transform="rotate(-90 10.5 347.5)">Altitude (km)</text>
<text x="279.9" y="264.9" font-size="11" text-anchor="start" textLength="31.2" lengthAdjust="spacingAndGlyphs">200.0</text>
<text x="281.1" y="285.9" font-size="11" text-anchor="start" textLength="30.0" lengthAdjust="spacingAndGlyphs">150.0</text>
<text x="281.0" y="306.9" font-size="11" text-anchor="start" textLength="30.0" lengthAdjust="spacingAndGlyphs">100.0</text>
<text x="285.0" y="327.9" font-size="11" text-anchor="start" textLength="24.5" lengthAdjust="spacingAndGlyphs">50.0</text>
<text x="291.0" y="348.9" font-size="11" text-anchor="start" textLength="16.9" lengthAdjust="spacingAndGlyphs">0.0</text>
<text x="280.2" y="369.9" font-size="11" text-anchor="start" textLength="32.9" lengthAdjust="spacingAndGlyphs">−50.0</text>
<text x="274.3" y="390.9" font-size="11" text-anchor="start" textLength="39.4" lengthAdjust="spacingAndGlyphs">−100.0</text>
<text x="274.3" y="411.9" font-size="11" text-anchor="start" textLength="39.4" lengthAdjust="spacingAndGlyphs">−150.0</text>
<text x="274.3" y="432.9" font-size="11" text-anchor="start" textLength="39.4" lengthAdjust="spacingAndGlyphs">−200.0</text>
<text x="371.6" y="257.2" font-size="13.8" text-anchor="start" textLength="37.8" lengthAdjust="spacingAndGlyphs">Zonal</text>
<text x="415.5" y="257.2" font-size="13.8" text-anchor="start" textLength="39.5" lengthAdjust="spacingAndGlyphs">Winds</text>
<text x="463.3" y="257.2" font-size="13.8" text-anchor="start" textLength="34.8" lengthAdjust="spacingAndGlyphs">(cold</text>
<text x="506.4" y="257.2" font-size="13.8" text-anchor="start" textLength="30.6" lengthAdjust="spacingAndGlyphs">side)</text>
<text x="360.5" y="431.6" font-size="11" text-anchor="end" textLength="12.8" lengthAdjust="spacingAndGlyphs">60</text>
<text x="360.5" y="401.7" font-size="11" text-anchor="end" textLength="12.8" lengthAdjust="spacingAndGlyphs">70</text>
<text x="360.5" y="368.1" font-size="11" text-anchor="end" textLength="12.8" lengthAdjust="spacingAndGlyphs">80</text>
<text x="360.5" y="334.5" font-size="11" text-anchor="end" textLength="12.8" lengthAdjust="spacingAndGlyphs">90</text>
<text x="360.5" y="300.9" font-size="11" text-anchor="end" textLength="19.2" lengthAdjust="spacingAndGlyphs">100</text>
<text x="360.5" y="270.3" font-size="11" text-anchor="end" textLength="19.2" lengthAdjust="spacingAndGlyphs">110</text>
<text x="364.8" y="446.9" font-size="11" text-anchor="middle" textLength="22.3" lengthAdjust="spacingAndGlyphs">−90</text>
<text x="410.5" y="446.9" font-size="11" text-anchor="middle" textLength="6.6" lengthAdjust="spacingAndGlyphs">0</text>
<text x="454.5" y="446.9" font-size="11" text-anchor="middle" textLength="13.2" lengthAdjust="spacingAndGlyphs">90</text>
<text x="499.5" y="446.9" font-size="11" text-anchor="middle" textLength="6.6" lengthAdjust="spacingAndGlyphs">0</text>
<text x="543.8" y="446.9" font-size="11" text-anchor="middle" textLength="22.3" lengthAdjust="spacingAndGlyphs">−90</text>
<text x="454.6" y="460.2" font-size="11" text-anchor="middle" textLength="52.2" lengthAdjust="spacingAndGlyphs">Lat (deg)</text>
<text x="330.5" y="347.5" font-size="11" text-anchor="middle" textLength="74.0" lengthAdjust="spacingAndGlyphs" transform="rotate(-90 330.5 347.5)">Altitude (km)</text>
<text x="592.9" y="264.9" font-size="11" text-anchor="start" textLength="31.2" lengthAdjust="spacingAndGlyphs">200.0</text>
<text x="594.1" y="285.9" font-size="11" text-anchor="start" textLength="30.0" lengthAdjust="spacingAndGlyphs">150.0</text>
<text x="594.0" y="306.9" font-size="11" text-anchor="start" textLength="30.0" lengthAdjust="spacingAndGlyphs">100.0</text>
<text x="598.0" y="327.9" font-size="11" text-anchor="start" textLength="24.5" lengthAdjust="spacingAndGlyphs">50.0</text>
<text x="604.0" y="348.9" font-size="11" text-anchor="start" textLength="16.9" lengthAdjust="spacingAndGlyphs">0.0</text>
<text x="593.2" y="369.9" font-size="11" text-anchor="start" textLength="32.9" lengthAdjust="spacingAndGlyphs">−50.0</text>
<text x="587.3" y="390.9" font-size="11" text-anchor="start" textLength="39.4" lengthAdjust="spacingAndGlyphs">−100.0</text>
<text x="587.3" y="411.9" font-size="11" text-anchor="start" textLength="39.4" lengthAdjust="spacingAndGlyphs">−150.0</text>
<text x="587.3" y="432.9" font-size="11" text-anchor="start" textLength="39.4" lengthAdjust="spacingAndGlyphs">−200.0</text>
<text x="288.8" y="469.5" font-size="11" text-anchor="start" textLength="113.5" lengthAdjust="spacingAndGlyphs">2007169 bb v03r04</text>
<text x="416.5" y="469.5" font-size="11" text-anchor="start" textLength="124.5" lengthAdjust="spacingAndGlyphs">Beta Angle: −50.5923</text>
</g>
</svg></body></html>
